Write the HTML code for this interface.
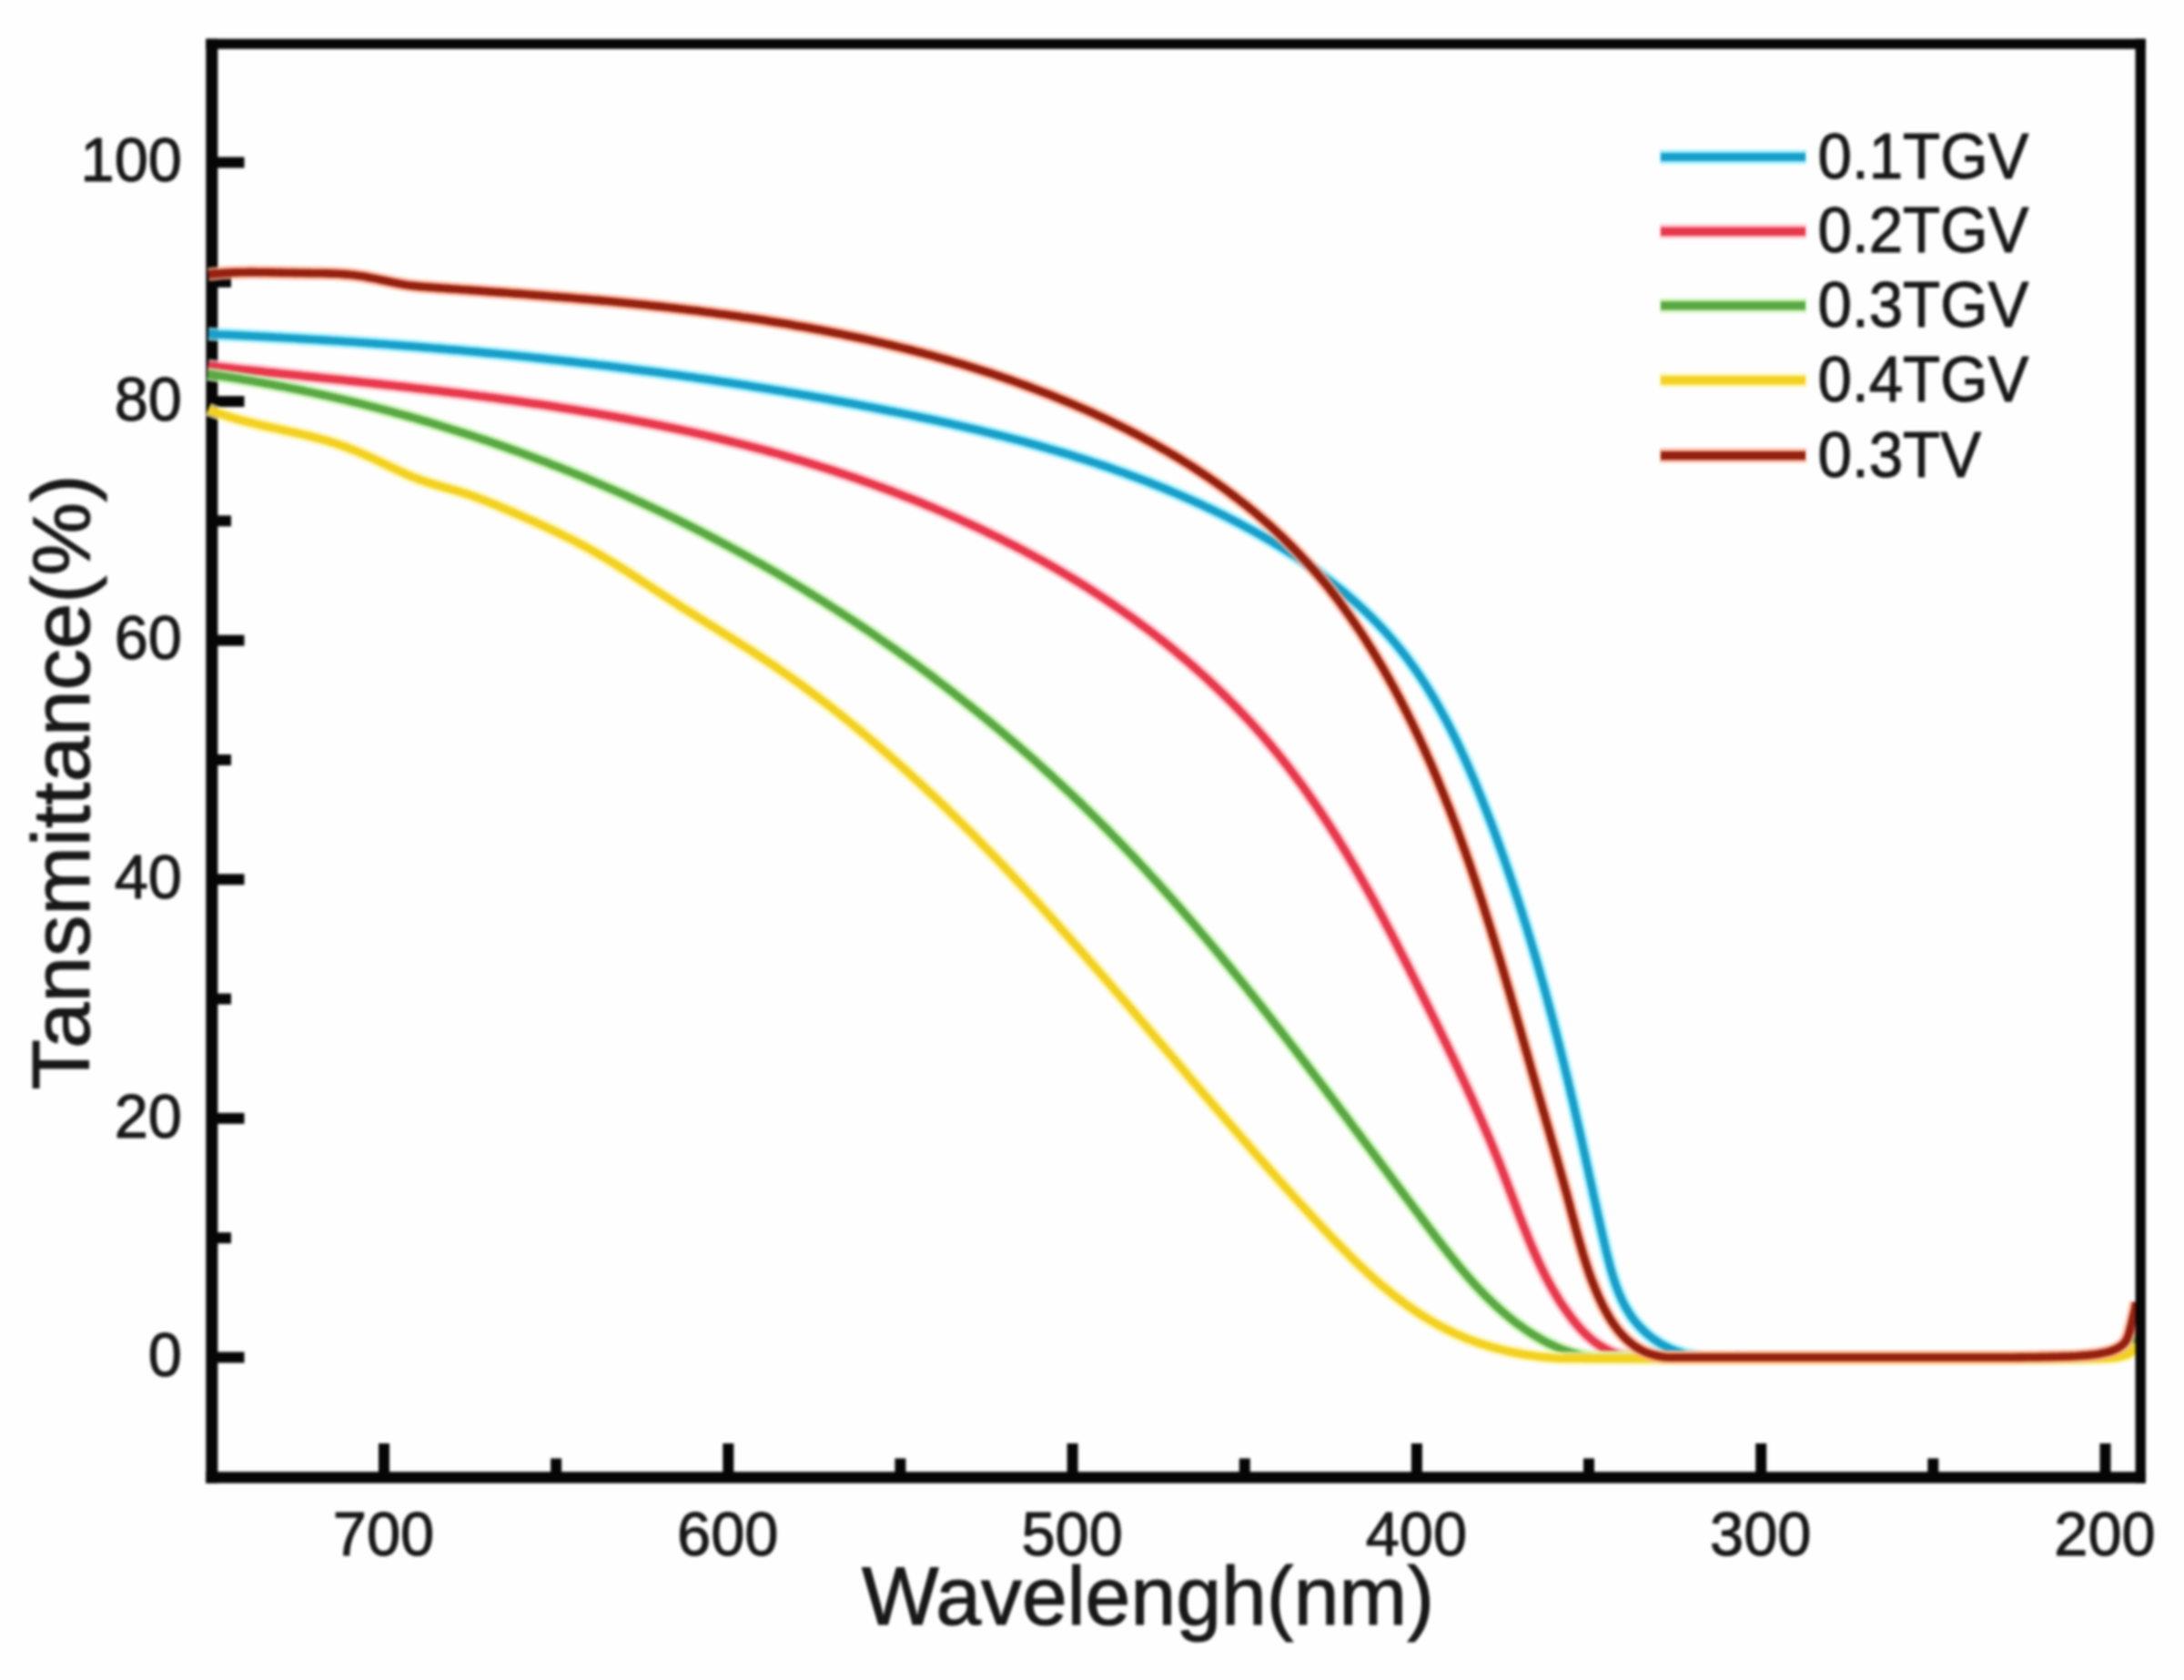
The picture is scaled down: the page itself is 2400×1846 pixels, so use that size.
<!DOCTYPE html>
<html lang="en"><head><meta charset="utf-8"><title>Transmittance spectra</title>
<style>html,body{margin:0;padding:0;background:#fff}body{width:2400px;height:1846px;overflow:hidden}svg{display:block;filter:blur(1.5px)}text{font-family:"Liberation Sans",Arial,sans-serif;fill:#181818;stroke:#181818;stroke-width:1.1px;stroke-linejoin:round}</style></head><body>
<svg width="2400" height="1846" viewBox="0 0 2400 1846">
<rect width="2400" height="1846" fill="#fefefe"/>
<rect x="226.3" y="42.7" width="13.0" height="1587.0" fill="#060606"/><rect x="226.3" y="42.7" width="2131.6" height="11.1" fill="#060606"/><rect x="226.3" y="1617.2" width="2131.6" height="12.5" fill="#060606"/>
<g fill="#060606">
<rect x="233.0" y="1485.5" width="35.5" height="12.0"/>
<rect x="233.0" y="1354.2" width="21.0" height="12.0"/>
<rect x="233.0" y="1222.9" width="35.5" height="12.0"/>
<rect x="233.0" y="1091.6" width="21.0" height="12.0"/>
<rect x="233.0" y="960.3" width="35.5" height="12.0"/>
<rect x="233.0" y="829.0" width="21.0" height="12.0"/>
<rect x="233.0" y="697.7" width="35.5" height="12.0"/>
<rect x="233.0" y="566.4" width="21.0" height="12.0"/>
<rect x="233.0" y="435.1" width="35.5" height="12.0"/>
<rect x="233.0" y="303.8" width="21.0" height="12.0"/>
<rect x="233.0" y="172.5" width="35.5" height="12.0"/>
<rect x="416.0" y="1586.0" width="12.0" height="36.5"/>
<rect x="605.1" y="1602.5" width="12.0" height="20.0"/>
<rect x="794.3" y="1586.0" width="12.0" height="36.5"/>
<rect x="983.4" y="1602.5" width="12.0" height="20.0"/>
<rect x="1172.6" y="1586.0" width="12.0" height="36.5"/>
<rect x="1361.8" y="1602.5" width="12.0" height="20.0"/>
<rect x="1550.9" y="1586.0" width="12.0" height="36.5"/>
<rect x="1740.0" y="1602.5" width="12.0" height="20.0"/>
<rect x="1929.2" y="1586.0" width="12.0" height="36.5"/>
<rect x="2118.3" y="1602.5" width="12.0" height="20.0"/>
<rect x="2307.5" y="1586.0" width="12.0" height="36.5"/>
</g>
<g fill="none" stroke-linejoin="round" stroke-linecap="butt">
<path stroke="#8cecff" stroke-width="15.0" stroke-opacity="0.75" d="M229.0 367.0 L234.0 367.2 L239.0 367.5 L244.0 367.7 L249.0 367.9 L254.0 368.1 L259.0 368.4 L264.0 368.6 L269.0 368.9 L274.0 369.1 L279.0 369.4 L284.0 369.6 L289.0 369.9 L293.9 370.1 L298.9 370.4 L303.9 370.7 L308.9 370.9 L313.9 371.2 L318.9 371.5 L323.9 371.8 L328.9 372.1 L333.9 372.4 L338.9 372.7 L343.9 373.0 L348.8 373.3 L353.8 373.6 L358.8 373.9 L363.8 374.2 L368.8 374.5 L373.8 374.8 L378.8 375.2 L383.8 375.5 L388.8 375.8 L393.7 376.2 L398.7 376.5 L403.7 376.9 L408.7 377.2 L413.7 377.6 L418.7 378.0 L423.7 378.3 L428.6 378.7 L433.6 379.1 L438.6 379.5 L443.6 379.9 L448.6 380.2 L453.6 380.6 L458.5 381.0 L463.5 381.4 L468.5 381.9 L473.5 382.3 L478.5 382.7 L483.5 383.1 L488.4 383.5 L493.4 384.0 L498.4 384.4 L503.4 384.8 L508.4 385.3 L513.3 385.7 L518.3 386.2 L523.3 386.6 L528.3 387.1 L533.2 387.6 L538.2 388.1 L543.2 388.5 L548.2 389.0 L553.1 389.5 L558.1 390.0 L563.1 390.5 L568.1 391.0 L573.0 391.5 L578.0 392.0 L583.0 392.5 L587.9 393.1 L592.9 393.6 L597.9 394.1 L602.9 394.7 L607.8 395.2 L612.8 395.8 L617.8 396.3 L622.7 396.9 L627.7 397.4 L632.7 398.0 L637.6 398.6 L642.6 399.1 L647.6 399.7 L652.5 400.3 L657.5 400.9 L662.4 401.5 L667.4 402.1 L672.4 402.7 L677.3 403.3 L682.3 404.0 L687.2 404.6 L692.2 405.2 L697.2 405.9 L702.1 406.5 L707.1 407.2 L712.0 407.8 L717.0 408.5 L721.9 409.1 L726.9 409.8 L731.8 410.5 L736.8 411.2 L741.7 411.8 L746.7 412.5 L751.6 413.2 L756.6 413.9 L761.5 414.6 L766.5 415.4 L771.4 416.1 L776.4 416.8 L781.3 417.5 L786.3 418.3 L791.2 419.0 L796.2 419.8 L801.1 420.5 L806.0 421.3 L811.0 422.0 L815.9 422.8 L820.9 423.6 L825.8 424.4 L830.7 425.2 L835.7 426.0 L840.6 426.8 L845.5 427.6 L850.5 428.4 L855.4 429.2 L860.3 430.0 L865.3 430.9 L870.2 431.7 L875.1 432.5 L880.1 433.4 L885.0 434.2 L889.9 435.1 L894.8 436.0 L899.8 436.8 L904.7 437.7 L909.6 438.6 L914.5 439.5 L919.5 440.4 L924.4 441.3 L929.3 442.2 L934.2 443.1 L939.1 444.0 L944.1 445.0 L949.0 445.9 L953.9 446.9 L958.8 447.8 L963.7 448.8 L968.6 449.7 L973.5 450.7 L978.4 451.7 L983.4 452.6 L988.3 453.6 L993.2 454.6 L998.1 455.6 L1003.0 456.6 L1007.9 457.7 L1012.8 458.7 L1017.7 459.7 L1022.6 460.8 L1027.5 461.8 L1032.3 462.9 L1037.2 464.0 L1042.1 465.0 L1047.0 466.1 L1051.9 467.2 L1056.8 468.4 L1061.6 469.5 L1066.5 470.6 L1071.4 471.8 L1076.2 472.9 L1081.1 474.1 L1085.9 475.3 L1090.8 476.5 L1095.7 477.7 L1100.5 478.9 L1105.3 480.1 L1110.2 481.4 L1115.0 482.7 L1119.8 483.9 L1124.7 485.2 L1129.5 486.5 L1134.3 487.8 L1139.1 489.2 L1143.9 490.5 L1148.7 491.9 L1153.5 493.3 L1158.3 494.7 L1163.1 496.1 L1167.9 497.5 L1172.7 498.9 L1177.4 500.4 L1182.2 501.9 L1186.9 503.4 L1191.7 504.9 L1196.4 506.4 L1201.2 508.0 L1205.9 509.5 L1210.6 511.1 L1215.4 512.7 L1220.1 514.3 L1224.8 516.0 L1229.5 517.7 L1234.2 519.3 L1238.9 521.0 L1243.5 522.8 L1248.2 524.5 L1252.9 526.3 L1257.5 528.0 L1262.2 529.8 L1266.8 531.7 L1271.5 533.5 L1276.1 535.4 L1280.7 537.3 L1285.3 539.2 L1289.9 541.1 L1294.5 543.1 L1299.1 545.1 L1303.7 547.1 L1308.3 549.1 L1312.8 551.2 L1317.4 553.2 L1321.9 555.3 L1326.4 557.5 L1331.0 559.6 L1335.5 561.8 L1340.0 564.0 L1344.5 566.2 L1349.0 568.5 L1353.4 570.8 L1357.9 573.1 L1362.4 575.4 L1366.8 577.8 L1371.2 580.2 L1375.6 582.6 L1380.0 585.0 L1384.4 587.5 L1388.8 590.0 L1393.1 592.5 L1397.5 595.1 L1401.8 597.7 L1406.1 600.3 L1410.3 602.9 L1414.6 605.6 L1418.8 608.3 L1423.0 611.0 L1427.2 613.8 L1431.4 616.6 L1435.5 619.4 L1439.6 622.3 L1443.7 625.2 L1447.7 628.1 L1451.8 631.1 L1455.8 634.1 L1459.7 637.1 L1463.7 640.2 L1467.6 643.3 L1471.5 646.4 L1475.3 649.6 L1479.1 652.7 L1482.9 656.0 L1486.6 659.2 L1490.3 662.5 L1494.0 665.9 L1497.7 669.3 L1501.2 672.7 L1504.8 676.1 L1508.3 679.6 L1511.8 683.1 L1515.2 686.7 L1518.6 690.3 L1522.0 693.9 L1525.3 697.6 L1528.5 701.3 L1531.8 705.1 L1534.9 708.9 L1538.1 712.7 L1541.1 716.6 L1544.2 720.5 L1547.2 724.4 L1550.1 728.4 L1553.0 732.4 L1555.9 736.5 L1558.7 740.6 L1561.4 744.7 L1564.2 748.8 L1566.9 753.0 L1569.5 757.2 L1572.1 761.5 L1574.7 765.8 L1577.2 770.1 L1579.7 774.4 L1582.2 778.8 L1584.6 783.2 L1587.0 787.6 L1589.4 792.0 L1591.7 796.4 L1594.0 800.9 L1596.2 805.4 L1598.5 809.9 L1600.7 814.5 L1602.9 819.0 L1605.0 823.6 L1607.1 828.2 L1609.2 832.8 L1611.3 837.4 L1613.3 842.0 L1615.3 846.6 L1617.3 851.3 L1619.3 855.9 L1621.3 860.6 L1623.2 865.3 L1625.1 870.0 L1627.0 874.7 L1628.9 879.4 L1630.7 884.1 L1632.6 888.8 L1634.4 893.5 L1636.2 898.2 L1638.0 902.9 L1639.8 907.6 L1641.5 912.3 L1643.3 917.0 L1645.0 921.8 L1646.7 926.5 L1648.4 931.2 L1650.1 935.9 L1651.8 940.6 L1653.4 945.4 L1655.1 950.1 L1656.7 954.8 L1658.3 959.6 L1659.9 964.3 L1661.5 969.0 L1663.1 973.8 L1664.7 978.5 L1666.2 983.2 L1667.8 988.0 L1669.3 992.7 L1670.8 997.5 L1672.4 1002.2 L1673.8 1006.9 L1675.3 1011.7 L1676.8 1016.4 L1678.3 1021.2 L1679.7 1026.0 L1681.2 1030.7 L1682.6 1035.5 L1684.0 1040.2 L1685.4 1045.0 L1686.8 1049.8 L1688.2 1054.5 L1689.6 1059.3 L1690.9 1064.1 L1692.3 1068.8 L1693.6 1073.6 L1695.0 1078.4 L1696.3 1083.2 L1697.6 1087.9 L1698.9 1092.7 L1700.2 1097.5 L1701.5 1102.3 L1702.8 1107.1 L1704.0 1111.9 L1705.3 1116.7 L1706.6 1121.5 L1707.8 1126.3 L1709.0 1131.1 L1710.3 1135.9 L1711.5 1140.7 L1712.7 1145.5 L1713.9 1150.3 L1715.1 1155.1 L1716.3 1159.9 L1717.5 1164.7 L1718.7 1169.6 L1719.8 1174.4 L1721.0 1179.2 L1722.2 1184.0 L1723.3 1188.9 L1724.5 1193.7 L1725.6 1198.5 L1726.7 1203.4 L1727.9 1208.2 L1729.0 1213.0 L1730.1 1217.9 L1731.2 1222.7 L1732.3 1227.6 L1733.4 1232.4 L1734.5 1237.3 L1735.6 1242.2 L1736.7 1247.0 L1737.8 1251.9 L1738.8 1256.8 L1739.9 1261.6 L1741.0 1266.5 L1742.1 1271.4 L1743.1 1276.3 L1744.2 1281.2 L1745.3 1286.1 L1746.3 1291.0 L1747.4 1295.9 L1748.5 1300.8 L1749.6 1305.7 L1750.6 1310.7 L1751.7 1315.6 L1752.8 1320.6 L1753.9 1325.5 L1755.0 1330.5 L1756.1 1335.5 L1757.2 1340.5 L1758.4 1345.5 L1759.5 1350.5 L1760.6 1355.5 L1761.8 1360.6 L1763.0 1365.7 L1764.1 1370.7 L1765.3 1375.8 L1766.6 1380.9 L1767.9 1385.9 L1769.2 1391.0 L1770.6 1396.0 L1772.0 1400.9 L1773.6 1405.8 L1775.2 1410.7 L1776.9 1415.4 L1778.7 1420.1 L1780.7 1424.7 L1782.7 1429.2 L1784.9 1433.6 L1787.3 1437.9 L1789.8 1442.0 L1792.4 1446.1 L1795.2 1449.9 L1798.2 1453.6 L1801.3 1457.2 L1804.6 1460.6 L1808.0 1463.9 L1811.6 1467.0 L1815.3 1470.0 L1819.1 1472.7 L1823.1 1475.3 L1827.2 1477.8 L1831.4 1480.0 L1835.8 1482.1 L1840.2 1484.0 L1844.8 1485.7 L1849.4 1487.2 L1854.2 1488.5 L1859.1 1489.6 L1864.0 1490.6 L1869.0 1491.3 L1874.1 1491.5 L1879.2 1491.5 L1884.4 1491.5 L1889.6 1491.5 L1894.8 1491.5 L1900.0 1491.5 L1905.2 1491.5 L1910.4 1490.9 L1910.0 1491.5 L1970.0 1491.5 L1974.0 1491.5 L1978.0 1491.5 L1982.0 1491.5 L1986.0 1491.5 L1990.0 1491.5 L1994.0 1491.5 L1998.0 1491.5 L2002.0 1491.5 L2006.0 1491.5 L2010.0 1491.5 L2014.0 1491.5 L2018.0 1491.5 L2022.0 1491.5 L2026.0 1491.5 L2030.0 1491.5 L2034.0 1491.5 L2038.0 1491.5 L2042.0 1491.5 L2046.0 1491.5 L2050.0 1491.5 L2054.0 1491.5 L2058.0 1491.5 L2062.0 1491.5 L2066.0 1491.5 L2070.0 1491.5 L2074.0 1491.5 L2078.0 1491.5 L2082.0 1491.5 L2086.0 1491.5 L2090.0 1491.5 L2094.0 1491.5 L2098.0 1491.5 L2102.0 1491.5 L2106.0 1491.5 L2110.0 1491.5 L2114.0 1491.5 L2118.0 1491.5 L2122.0 1491.5 L2126.0 1491.5 L2130.0 1491.5 L2134.0 1491.5 L2138.0 1491.5 L2142.0 1491.5 L2146.0 1491.5 L2150.0 1491.5 L2154.0 1491.5 L2158.0 1491.5 L2162.0 1491.5 L2166.0 1491.5 L2170.0 1491.5 L2174.0 1491.5 L2178.0 1491.5 L2182.0 1491.5 L2186.0 1491.5 L2190.0 1491.5 L2194.0 1491.5 L2198.0 1491.5 L2202.0 1491.5 L2206.0 1491.5 L2210.0 1491.5 L2214.0 1491.5 L2218.0 1491.5 L2222.0 1491.5 L2226.0 1491.5 L2230.0 1491.4 L2234.0 1491.4 L2238.0 1491.4 L2242.0 1491.4 L2246.0 1491.3 L2250.0 1491.3 L2254.0 1491.3 L2258.0 1491.2 L2262.0 1491.2 L2266.0 1491.2 L2270.0 1491.1 L2274.0 1491.1 L2278.0 1491.0 L2282.0 1491.0 L2286.0 1490.8 L2290.0 1490.7 L2294.0 1490.4 L2298.0 1490.1 L2302.0 1489.8 L2306.0 1489.4 L2309.9 1489.0 L2313.9 1488.5 L2317.9 1487.8 L2321.9 1486.9 L2325.6 1485.8 L2329.3 1484.1 L2332.8 1481.9 L2335.7 1479.3 L2338.1 1476.3 L2340.1 1472.8 L2341.9 1469.0 L2343.3 1465.2 L2344.5 1461.5 L2345.7 1457.7 L2346.7 1453.8 L2347.5 1449.8 L2348.0 1446.0"/>
<path stroke="#189fc9" stroke-width="8.6" d="M229.0 367.0 L234.0 367.2 L239.0 367.5 L244.0 367.7 L249.0 367.9 L254.0 368.1 L259.0 368.4 L264.0 368.6 L269.0 368.9 L274.0 369.1 L279.0 369.4 L284.0 369.6 L289.0 369.9 L293.9 370.1 L298.9 370.4 L303.9 370.7 L308.9 370.9 L313.9 371.2 L318.9 371.5 L323.9 371.8 L328.9 372.1 L333.9 372.4 L338.9 372.7 L343.9 373.0 L348.8 373.3 L353.8 373.6 L358.8 373.9 L363.8 374.2 L368.8 374.5 L373.8 374.8 L378.8 375.2 L383.8 375.5 L388.8 375.8 L393.7 376.2 L398.7 376.5 L403.7 376.9 L408.7 377.2 L413.7 377.6 L418.7 378.0 L423.7 378.3 L428.6 378.7 L433.6 379.1 L438.6 379.5 L443.6 379.9 L448.6 380.2 L453.6 380.6 L458.5 381.0 L463.5 381.4 L468.5 381.9 L473.5 382.3 L478.5 382.7 L483.5 383.1 L488.4 383.5 L493.4 384.0 L498.4 384.4 L503.4 384.8 L508.4 385.3 L513.3 385.7 L518.3 386.2 L523.3 386.6 L528.3 387.1 L533.2 387.6 L538.2 388.1 L543.2 388.5 L548.2 389.0 L553.1 389.5 L558.1 390.0 L563.1 390.5 L568.1 391.0 L573.0 391.5 L578.0 392.0 L583.0 392.5 L587.9 393.1 L592.9 393.6 L597.9 394.1 L602.9 394.7 L607.8 395.2 L612.8 395.8 L617.8 396.3 L622.7 396.9 L627.7 397.4 L632.7 398.0 L637.6 398.6 L642.6 399.1 L647.6 399.7 L652.5 400.3 L657.5 400.9 L662.4 401.5 L667.4 402.1 L672.4 402.7 L677.3 403.3 L682.3 404.0 L687.2 404.6 L692.2 405.2 L697.2 405.9 L702.1 406.5 L707.1 407.2 L712.0 407.8 L717.0 408.5 L721.9 409.1 L726.9 409.8 L731.8 410.5 L736.8 411.2 L741.7 411.8 L746.7 412.5 L751.6 413.2 L756.6 413.9 L761.5 414.6 L766.5 415.4 L771.4 416.1 L776.4 416.8 L781.3 417.5 L786.3 418.3 L791.2 419.0 L796.2 419.8 L801.1 420.5 L806.0 421.3 L811.0 422.0 L815.9 422.8 L820.9 423.6 L825.8 424.4 L830.7 425.2 L835.7 426.0 L840.6 426.8 L845.5 427.6 L850.5 428.4 L855.4 429.2 L860.3 430.0 L865.3 430.9 L870.2 431.7 L875.1 432.5 L880.1 433.4 L885.0 434.2 L889.9 435.1 L894.8 436.0 L899.8 436.8 L904.7 437.7 L909.6 438.6 L914.5 439.5 L919.5 440.4 L924.4 441.3 L929.3 442.2 L934.2 443.1 L939.1 444.0 L944.1 445.0 L949.0 445.9 L953.9 446.9 L958.8 447.8 L963.7 448.8 L968.6 449.7 L973.5 450.7 L978.4 451.7 L983.4 452.6 L988.3 453.6 L993.2 454.6 L998.1 455.6 L1003.0 456.6 L1007.9 457.7 L1012.8 458.7 L1017.7 459.7 L1022.6 460.8 L1027.5 461.8 L1032.3 462.9 L1037.2 464.0 L1042.1 465.0 L1047.0 466.1 L1051.9 467.2 L1056.8 468.4 L1061.6 469.5 L1066.5 470.6 L1071.4 471.8 L1076.2 472.9 L1081.1 474.1 L1085.9 475.3 L1090.8 476.5 L1095.7 477.7 L1100.5 478.9 L1105.3 480.1 L1110.2 481.4 L1115.0 482.7 L1119.8 483.9 L1124.7 485.2 L1129.5 486.5 L1134.3 487.8 L1139.1 489.2 L1143.9 490.5 L1148.7 491.9 L1153.5 493.3 L1158.3 494.7 L1163.1 496.1 L1167.9 497.5 L1172.7 498.9 L1177.4 500.4 L1182.2 501.9 L1186.9 503.4 L1191.7 504.9 L1196.4 506.4 L1201.2 508.0 L1205.9 509.5 L1210.6 511.1 L1215.4 512.7 L1220.1 514.3 L1224.8 516.0 L1229.5 517.7 L1234.2 519.3 L1238.9 521.0 L1243.5 522.8 L1248.2 524.5 L1252.9 526.3 L1257.5 528.0 L1262.2 529.8 L1266.8 531.7 L1271.5 533.5 L1276.1 535.4 L1280.7 537.3 L1285.3 539.2 L1289.9 541.1 L1294.5 543.1 L1299.1 545.1 L1303.7 547.1 L1308.3 549.1 L1312.8 551.2 L1317.4 553.2 L1321.9 555.3 L1326.4 557.5 L1331.0 559.6 L1335.5 561.8 L1340.0 564.0 L1344.5 566.2 L1349.0 568.5 L1353.4 570.8 L1357.9 573.1 L1362.4 575.4 L1366.8 577.8 L1371.2 580.2 L1375.6 582.6 L1380.0 585.0 L1384.4 587.5 L1388.8 590.0 L1393.1 592.5 L1397.5 595.1 L1401.8 597.7 L1406.1 600.3 L1410.3 602.9 L1414.6 605.6 L1418.8 608.3 L1423.0 611.0 L1427.2 613.8 L1431.4 616.6 L1435.5 619.4 L1439.6 622.3 L1443.7 625.2 L1447.7 628.1 L1451.8 631.1 L1455.8 634.1 L1459.7 637.1 L1463.7 640.2 L1467.6 643.3 L1471.5 646.4 L1475.3 649.6 L1479.1 652.7 L1482.9 656.0 L1486.6 659.2 L1490.3 662.5 L1494.0 665.9 L1497.7 669.3 L1501.2 672.7 L1504.8 676.1 L1508.3 679.6 L1511.8 683.1 L1515.2 686.7 L1518.6 690.3 L1522.0 693.9 L1525.3 697.6 L1528.5 701.3 L1531.8 705.1 L1534.9 708.9 L1538.1 712.7 L1541.1 716.6 L1544.2 720.5 L1547.2 724.4 L1550.1 728.4 L1553.0 732.4 L1555.9 736.5 L1558.7 740.6 L1561.4 744.7 L1564.2 748.8 L1566.9 753.0 L1569.5 757.2 L1572.1 761.5 L1574.7 765.8 L1577.2 770.1 L1579.7 774.4 L1582.2 778.8 L1584.6 783.2 L1587.0 787.6 L1589.4 792.0 L1591.7 796.4 L1594.0 800.9 L1596.2 805.4 L1598.5 809.9 L1600.7 814.5 L1602.9 819.0 L1605.0 823.6 L1607.1 828.2 L1609.2 832.8 L1611.3 837.4 L1613.3 842.0 L1615.3 846.6 L1617.3 851.3 L1619.3 855.9 L1621.3 860.6 L1623.2 865.3 L1625.1 870.0 L1627.0 874.7 L1628.9 879.4 L1630.7 884.1 L1632.6 888.8 L1634.4 893.5 L1636.2 898.2 L1638.0 902.9 L1639.8 907.6 L1641.5 912.3 L1643.3 917.0 L1645.0 921.8 L1646.7 926.5 L1648.4 931.2 L1650.1 935.9 L1651.8 940.6 L1653.4 945.4 L1655.1 950.1 L1656.7 954.8 L1658.3 959.6 L1659.9 964.3 L1661.5 969.0 L1663.1 973.8 L1664.7 978.5 L1666.2 983.2 L1667.8 988.0 L1669.3 992.7 L1670.8 997.5 L1672.4 1002.2 L1673.8 1006.9 L1675.3 1011.7 L1676.8 1016.4 L1678.3 1021.2 L1679.7 1026.0 L1681.2 1030.7 L1682.6 1035.5 L1684.0 1040.2 L1685.4 1045.0 L1686.8 1049.8 L1688.2 1054.5 L1689.6 1059.3 L1690.9 1064.1 L1692.3 1068.8 L1693.6 1073.6 L1695.0 1078.4 L1696.3 1083.2 L1697.6 1087.9 L1698.9 1092.7 L1700.2 1097.5 L1701.5 1102.3 L1702.8 1107.1 L1704.0 1111.9 L1705.3 1116.7 L1706.6 1121.5 L1707.8 1126.3 L1709.0 1131.1 L1710.3 1135.9 L1711.5 1140.7 L1712.7 1145.5 L1713.9 1150.3 L1715.1 1155.1 L1716.3 1159.9 L1717.5 1164.7 L1718.7 1169.6 L1719.8 1174.4 L1721.0 1179.2 L1722.2 1184.0 L1723.3 1188.9 L1724.5 1193.7 L1725.6 1198.5 L1726.7 1203.4 L1727.9 1208.2 L1729.0 1213.0 L1730.1 1217.9 L1731.2 1222.7 L1732.3 1227.6 L1733.4 1232.4 L1734.5 1237.3 L1735.6 1242.2 L1736.7 1247.0 L1737.8 1251.9 L1738.8 1256.8 L1739.9 1261.6 L1741.0 1266.5 L1742.1 1271.4 L1743.1 1276.3 L1744.2 1281.2 L1745.3 1286.1 L1746.3 1291.0 L1747.4 1295.9 L1748.5 1300.8 L1749.6 1305.7 L1750.6 1310.7 L1751.7 1315.6 L1752.8 1320.6 L1753.9 1325.5 L1755.0 1330.5 L1756.1 1335.5 L1757.2 1340.5 L1758.4 1345.5 L1759.5 1350.5 L1760.6 1355.5 L1761.8 1360.6 L1763.0 1365.7 L1764.1 1370.7 L1765.3 1375.8 L1766.6 1380.9 L1767.9 1385.9 L1769.2 1391.0 L1770.6 1396.0 L1772.0 1400.9 L1773.6 1405.8 L1775.2 1410.7 L1776.9 1415.4 L1778.7 1420.1 L1780.7 1424.7 L1782.7 1429.2 L1784.9 1433.6 L1787.3 1437.9 L1789.8 1442.0 L1792.4 1446.1 L1795.2 1449.9 L1798.2 1453.6 L1801.3 1457.2 L1804.6 1460.6 L1808.0 1463.9 L1811.6 1467.0 L1815.3 1470.0 L1819.1 1472.7 L1823.1 1475.3 L1827.2 1477.8 L1831.4 1480.0 L1835.8 1482.1 L1840.2 1484.0 L1844.8 1485.7 L1849.4 1487.2 L1854.2 1488.5 L1859.1 1489.6 L1864.0 1490.6 L1869.0 1491.3 L1874.1 1491.5 L1879.2 1491.5 L1884.4 1491.5 L1889.6 1491.5 L1894.8 1491.5 L1900.0 1491.5 L1905.2 1491.5 L1910.4 1490.9 L1910.0 1491.5 L1970.0 1491.5 L1974.0 1491.5 L1978.0 1491.5 L1982.0 1491.5 L1986.0 1491.5 L1990.0 1491.5 L1994.0 1491.5 L1998.0 1491.5 L2002.0 1491.5 L2006.0 1491.5 L2010.0 1491.5 L2014.0 1491.5 L2018.0 1491.5 L2022.0 1491.5 L2026.0 1491.5 L2030.0 1491.5 L2034.0 1491.5 L2038.0 1491.5 L2042.0 1491.5 L2046.0 1491.5 L2050.0 1491.5 L2054.0 1491.5 L2058.0 1491.5 L2062.0 1491.5 L2066.0 1491.5 L2070.0 1491.5 L2074.0 1491.5 L2078.0 1491.5 L2082.0 1491.5 L2086.0 1491.5 L2090.0 1491.5 L2094.0 1491.5 L2098.0 1491.5 L2102.0 1491.5 L2106.0 1491.5 L2110.0 1491.5 L2114.0 1491.5 L2118.0 1491.5 L2122.0 1491.5 L2126.0 1491.5 L2130.0 1491.5 L2134.0 1491.5 L2138.0 1491.5 L2142.0 1491.5 L2146.0 1491.5 L2150.0 1491.5 L2154.0 1491.5 L2158.0 1491.5 L2162.0 1491.5 L2166.0 1491.5 L2170.0 1491.5 L2174.0 1491.5 L2178.0 1491.5 L2182.0 1491.5 L2186.0 1491.5 L2190.0 1491.5 L2194.0 1491.5 L2198.0 1491.5 L2202.0 1491.5 L2206.0 1491.5 L2210.0 1491.5 L2214.0 1491.5 L2218.0 1491.5 L2222.0 1491.5 L2226.0 1491.5 L2230.0 1491.4 L2234.0 1491.4 L2238.0 1491.4 L2242.0 1491.4 L2246.0 1491.3 L2250.0 1491.3 L2254.0 1491.3 L2258.0 1491.2 L2262.0 1491.2 L2266.0 1491.2 L2270.0 1491.1 L2274.0 1491.1 L2278.0 1491.0 L2282.0 1491.0 L2286.0 1490.8 L2290.0 1490.7 L2294.0 1490.4 L2298.0 1490.1 L2302.0 1489.8 L2306.0 1489.4 L2309.9 1489.0 L2313.9 1488.5 L2317.9 1487.8 L2321.9 1486.9 L2325.6 1485.8 L2329.3 1484.1 L2332.8 1481.9 L2335.7 1479.3 L2338.1 1476.3 L2340.1 1472.8 L2341.9 1469.0 L2343.3 1465.2 L2344.5 1461.5 L2345.7 1457.7 L2346.7 1453.8 L2347.5 1449.8 L2348.0 1446.0"/>
<path stroke="#ffb4bd" stroke-width="15.0" stroke-opacity="0.75" d="M228.7 401.9 L233.7 402.5 L238.7 403.0 L243.6 403.5 L248.6 404.1 L253.6 404.6 L258.6 405.2 L263.6 405.7 L268.6 406.2 L273.6 406.8 L278.6 407.3 L283.6 407.8 L288.6 408.3 L293.6 408.9 L298.5 409.4 L303.5 409.9 L308.5 410.5 L313.5 411.0 L318.5 411.5 L323.5 412.0 L328.5 412.5 L333.4 413.1 L338.4 413.6 L343.4 414.1 L348.4 414.6 L353.4 415.2 L358.3 415.7 L363.3 416.2 L368.3 416.8 L373.3 417.3 L378.3 417.8 L383.2 418.4 L388.2 418.9 L393.2 419.4 L398.2 420.0 L403.1 420.5 L408.1 421.1 L413.1 421.6 L418.0 422.1 L423.0 422.7 L428.0 423.3 L433.0 423.8 L437.9 424.4 L442.9 424.9 L447.9 425.5 L452.8 426.1 L457.8 426.7 L462.7 427.2 L467.7 427.8 L472.7 428.4 L477.6 429.0 L482.6 429.6 L487.5 430.2 L492.5 430.8 L497.4 431.4 L502.4 432.0 L507.3 432.6 L512.3 433.3 L517.2 433.9 L522.2 434.5 L527.1 435.2 L532.1 435.8 L537.0 436.5 L542.0 437.1 L546.9 437.8 L551.8 438.5 L556.8 439.2 L561.7 439.8 L566.7 440.5 L571.6 441.2 L576.5 441.9 L581.5 442.7 L586.4 443.4 L591.3 444.1 L596.2 444.8 L601.2 445.6 L606.1 446.3 L611.0 447.1 L615.9 447.9 L620.9 448.7 L625.8 449.4 L630.7 450.2 L635.6 451.0 L640.5 451.9 L645.4 452.7 L650.3 453.5 L655.2 454.3 L660.1 455.2 L665.0 456.1 L669.9 456.9 L674.9 457.8 L679.7 458.7 L684.6 459.6 L689.5 460.5 L694.4 461.4 L699.3 462.4 L704.2 463.3 L709.1 464.3 L714.0 465.2 L718.9 466.2 L723.8 467.2 L728.6 468.2 L733.5 469.2 L738.4 470.2 L743.3 471.3 L748.1 472.3 L753.0 473.4 L757.9 474.4 L762.7 475.5 L767.6 476.6 L772.5 477.7 L777.3 478.9 L782.2 480.0 L787.0 481.1 L791.9 482.3 L796.7 483.5 L801.6 484.7 L806.4 485.9 L811.3 487.1 L816.1 488.3 L821.0 489.6 L825.8 490.8 L830.6 492.1 L835.5 493.4 L840.3 494.7 L845.1 496.0 L850.0 497.4 L854.8 498.7 L859.6 500.1 L864.4 501.5 L869.2 502.8 L874.0 504.3 L878.9 505.7 L883.7 507.1 L888.5 508.6 L893.3 510.1 L898.1 511.6 L902.9 513.1 L907.7 514.6 L912.4 516.1 L917.2 517.7 L922.0 519.3 L926.8 520.9 L931.6 522.5 L936.3 524.1 L941.1 525.7 L945.8 527.4 L950.6 529.1 L955.3 530.7 L960.1 532.5 L964.8 534.2 L969.5 535.9 L974.3 537.7 L979.0 539.4 L983.7 541.2 L988.4 543.0 L993.1 544.9 L997.8 546.7 L1002.5 548.6 L1007.2 550.5 L1011.8 552.3 L1016.5 554.3 L1021.1 556.2 L1025.8 558.1 L1030.4 560.1 L1035.1 562.1 L1039.7 564.1 L1044.3 566.1 L1048.9 568.1 L1053.5 570.2 L1058.1 572.3 L1062.6 574.4 L1067.2 576.5 L1071.8 578.6 L1076.3 580.7 L1080.9 582.9 L1085.4 585.1 L1089.9 587.3 L1094.4 589.5 L1098.9 591.7 L1103.4 594.0 L1107.9 596.3 L1112.3 598.5 L1116.8 600.9 L1121.2 603.2 L1125.7 605.5 L1130.1 607.9 L1134.5 610.3 L1138.9 612.7 L1143.3 615.1 L1147.7 617.6 L1152.0 620.0 L1156.4 622.5 L1160.7 625.0 L1165.0 627.5 L1169.3 630.1 L1173.6 632.6 L1177.9 635.2 L1182.2 637.8 L1186.4 640.4 L1190.6 643.0 L1194.9 645.7 L1199.1 648.4 L1203.3 651.1 L1207.5 653.8 L1211.6 656.5 L1215.8 659.3 L1219.9 662.1 L1224.0 664.9 L1228.1 667.7 L1232.2 670.5 L1236.3 673.4 L1240.3 676.2 L1244.4 679.1 L1248.4 682.0 L1252.4 685.0 L1256.4 687.9 L1260.4 690.9 L1264.3 693.9 L1268.3 696.9 L1272.2 700.0 L1276.1 703.0 L1280.0 706.1 L1283.8 709.2 L1287.7 712.3 L1291.5 715.5 L1295.3 718.7 L1299.1 721.8 L1302.9 725.1 L1306.7 728.3 L1310.4 731.5 L1314.1 734.8 L1317.8 738.1 L1321.5 741.4 L1325.2 744.7 L1328.8 748.1 L1332.4 751.5 L1336.0 754.9 L1339.6 758.3 L1343.2 761.8 L1346.7 765.2 L1350.2 768.7 L1353.7 772.2 L1357.2 775.7 L1360.6 779.3 L1364.1 782.9 L1367.5 786.5 L1370.9 790.1 L1374.2 793.7 L1377.6 797.4 L1380.9 801.1 L1384.2 804.8 L1387.5 808.5 L1390.7 812.3 L1393.9 816.1 L1397.2 819.9 L1400.3 823.7 L1403.5 827.5 L1406.6 831.4 L1409.7 835.3 L1412.8 839.2 L1415.9 843.1 L1418.9 847.1 L1421.9 851.1 L1424.9 855.1 L1427.9 859.1 L1430.9 863.1 L1433.8 867.2 L1436.7 871.3 L1439.6 875.4 L1442.4 879.5 L1445.3 883.6 L1448.1 887.8 L1450.9 892.0 L1453.7 896.2 L1456.4 900.4 L1459.2 904.6 L1461.9 908.8 L1464.6 913.1 L1467.3 917.3 L1470.0 921.6 L1472.6 925.9 L1475.2 930.2 L1477.9 934.5 L1480.5 938.9 L1483.0 943.2 L1485.6 947.6 L1488.2 951.9 L1490.7 956.3 L1493.2 960.7 L1495.7 965.1 L1498.2 969.5 L1500.7 973.9 L1503.2 978.3 L1505.6 982.7 L1508.1 987.2 L1510.5 991.6 L1512.9 996.0 L1515.3 1000.5 L1517.7 1005.0 L1520.1 1009.4 L1522.4 1013.9 L1524.8 1018.4 L1527.1 1022.8 L1529.5 1027.3 L1531.8 1031.8 L1534.1 1036.3 L1536.4 1040.7 L1538.7 1045.2 L1541.0 1049.7 L1543.3 1054.2 L1545.6 1058.7 L1547.8 1063.2 L1550.1 1067.7 L1552.3 1072.1 L1554.6 1076.6 L1556.8 1081.1 L1559.0 1085.6 L1561.3 1090.0 L1563.5 1094.5 L1565.7 1099.0 L1567.9 1103.4 L1570.1 1107.9 L1572.3 1112.3 L1574.5 1116.8 L1576.7 1121.2 L1578.9 1125.7 L1581.0 1130.1 L1583.2 1134.6 L1585.4 1139.0 L1587.5 1143.5 L1589.7 1147.9 L1591.8 1152.3 L1593.9 1156.8 L1596.1 1161.2 L1598.2 1165.7 L1600.3 1170.1 L1602.4 1174.6 L1604.5 1179.1 L1606.6 1183.5 L1608.7 1188.0 L1610.7 1192.5 L1612.8 1196.9 L1614.8 1201.4 L1616.9 1205.9 L1618.9 1210.4 L1620.9 1214.9 L1622.9 1219.4 L1624.9 1224.0 L1626.9 1228.5 L1628.9 1233.0 L1630.8 1237.6 L1632.8 1242.2 L1634.7 1246.7 L1636.7 1251.3 L1638.6 1255.9 L1640.5 1260.5 L1642.4 1265.2 L1644.3 1269.8 L1646.2 1274.4 L1648.0 1279.1 L1649.9 1283.8 L1651.7 1288.5 L1653.5 1293.2 L1655.3 1297.9 L1657.1 1302.7 L1658.9 1307.4 L1660.7 1312.2 L1662.5 1316.9 L1664.3 1321.7 L1666.1 1326.4 L1667.9 1331.2 L1669.7 1336.0 L1671.6 1340.7 L1673.4 1345.5 L1675.3 1350.2 L1677.2 1354.9 L1679.1 1359.7 L1681.0 1364.3 L1683.0 1369.0 L1685.0 1373.7 L1687.0 1378.3 L1689.1 1382.9 L1691.2 1387.5 L1693.4 1392.1 L1695.6 1396.6 L1697.8 1401.1 L1700.1 1405.6 L1702.5 1410.0 L1704.9 1414.4 L1707.4 1418.7 L1709.9 1423.0 L1712.5 1427.3 L1715.2 1431.5 L1717.9 1435.6 L1720.8 1439.7 L1723.7 1443.8 L1726.6 1447.8 L1729.7 1451.7 L1732.8 1455.5 L1736.1 1459.3 L1739.4 1462.9 L1742.9 1466.3 L1746.5 1469.7 L1750.2 1472.8 L1754.0 1475.8 L1758.0 1478.5 L1762.1 1481.0 L1766.3 1483.3 L1770.8 1485.4 L1775.3 1487.2 L1780.0 1488.7 L1784.9 1489.9 L1789.8 1490.9 L1794.9 1491.5 L1800.0 1491.5 L1805.2 1491.5 L1810.4 1491.5 L1815.6 1491.5 L1820.0 1491.5 L1880.0 1491.5 L1884.0 1491.5 L1888.0 1491.5 L1892.0 1491.5 L1896.0 1491.5 L1900.0 1491.5 L1904.0 1491.5 L1908.0 1491.5 L1912.0 1491.5 L1916.0 1491.5 L1920.0 1491.5 L1924.0 1491.5 L1928.0 1491.5 L1932.0 1491.5 L1936.0 1491.5 L1940.0 1491.5 L1944.0 1491.5 L1948.0 1491.5 L1952.0 1491.5 L1956.0 1491.5 L1960.0 1491.5 L1964.0 1491.5 L1968.0 1491.5 L1972.0 1491.5 L1976.0 1491.5 L1980.0 1491.5 L1984.0 1491.5 L1988.0 1491.5 L1992.0 1491.5 L1996.0 1491.5 L2000.0 1491.5 L2004.0 1491.5 L2008.0 1491.5 L2012.0 1491.5 L2016.0 1491.5 L2020.0 1491.5 L2024.0 1491.5 L2028.0 1491.5 L2032.0 1491.5 L2036.0 1491.5 L2040.0 1491.5 L2044.0 1491.5 L2048.0 1491.5 L2052.0 1491.5 L2056.0 1491.5 L2060.0 1491.5 L2064.0 1491.5 L2068.0 1491.5 L2072.0 1491.5 L2076.0 1491.5 L2080.0 1491.5 L2084.0 1491.5 L2088.0 1491.5 L2092.0 1491.5 L2096.0 1491.5 L2100.0 1491.5 L2104.0 1491.5 L2108.0 1491.5 L2112.0 1491.5 L2116.0 1491.5 L2120.0 1491.5 L2124.0 1491.5 L2128.0 1491.5 L2132.0 1491.5 L2136.0 1491.5 L2140.0 1491.5 L2144.0 1491.5 L2148.0 1491.5 L2152.0 1491.5 L2156.0 1491.5 L2160.0 1491.5 L2164.0 1491.5 L2168.0 1491.5 L2172.0 1491.5 L2176.0 1491.5 L2180.0 1491.5 L2184.0 1491.5 L2188.0 1491.5 L2192.0 1491.5 L2196.0 1491.5 L2200.0 1491.5 L2204.0 1491.5 L2208.0 1491.5 L2212.0 1491.5 L2216.0 1491.5 L2220.0 1491.5 L2224.0 1491.5 L2228.0 1491.4 L2232.0 1491.4 L2236.0 1491.4 L2240.0 1491.4 L2244.0 1491.3 L2248.0 1491.3 L2252.0 1491.3 L2256.0 1491.3 L2260.0 1491.2 L2264.0 1491.2 L2268.0 1491.1 L2272.0 1491.1 L2276.0 1491.0 L2280.0 1491.0 L2284.0 1490.9 L2288.0 1490.8 L2292.0 1490.7 L2296.0 1490.5 L2300.0 1490.2 L2304.0 1490.0 L2308.0 1489.7 L2312.0 1489.3 L2316.0 1488.8 L2320.0 1488.1 L2323.9 1487.2 L2327.7 1486.1 L2331.3 1484.5 L2334.7 1482.1 L2337.6 1479.4 L2340.0 1476.4 L2342.0 1472.8 L2343.6 1469.0 L2345.0 1465.3 L2346.2 1461.5 L2347.2 1457.6 L2347.9 1453.6 L2348.0 1453.0"/>
<path stroke="#e8384c" stroke-width="8.6" d="M228.7 401.9 L233.7 402.5 L238.7 403.0 L243.6 403.5 L248.6 404.1 L253.6 404.6 L258.6 405.2 L263.6 405.7 L268.6 406.2 L273.6 406.8 L278.6 407.3 L283.6 407.8 L288.6 408.3 L293.6 408.9 L298.5 409.4 L303.5 409.9 L308.5 410.5 L313.5 411.0 L318.5 411.5 L323.5 412.0 L328.5 412.5 L333.4 413.1 L338.4 413.6 L343.4 414.1 L348.4 414.6 L353.4 415.2 L358.3 415.7 L363.3 416.2 L368.3 416.8 L373.3 417.3 L378.3 417.8 L383.2 418.4 L388.2 418.9 L393.2 419.4 L398.2 420.0 L403.1 420.5 L408.1 421.1 L413.1 421.6 L418.0 422.1 L423.0 422.7 L428.0 423.3 L433.0 423.8 L437.9 424.4 L442.9 424.9 L447.9 425.5 L452.8 426.1 L457.8 426.7 L462.7 427.2 L467.7 427.8 L472.7 428.4 L477.6 429.0 L482.6 429.6 L487.5 430.2 L492.5 430.8 L497.4 431.4 L502.4 432.0 L507.3 432.6 L512.3 433.3 L517.2 433.9 L522.2 434.5 L527.1 435.2 L532.1 435.8 L537.0 436.5 L542.0 437.1 L546.9 437.8 L551.8 438.5 L556.8 439.2 L561.7 439.8 L566.7 440.5 L571.6 441.2 L576.5 441.9 L581.5 442.7 L586.4 443.4 L591.3 444.1 L596.2 444.8 L601.2 445.6 L606.1 446.3 L611.0 447.1 L615.9 447.9 L620.9 448.7 L625.8 449.4 L630.7 450.2 L635.6 451.0 L640.5 451.9 L645.4 452.7 L650.3 453.5 L655.2 454.3 L660.1 455.2 L665.0 456.1 L669.9 456.9 L674.9 457.8 L679.7 458.7 L684.6 459.6 L689.5 460.5 L694.4 461.4 L699.3 462.4 L704.2 463.3 L709.1 464.3 L714.0 465.2 L718.9 466.2 L723.8 467.2 L728.6 468.2 L733.5 469.2 L738.4 470.2 L743.3 471.3 L748.1 472.3 L753.0 473.4 L757.9 474.4 L762.7 475.5 L767.6 476.6 L772.5 477.7 L777.3 478.9 L782.2 480.0 L787.0 481.1 L791.9 482.3 L796.7 483.5 L801.6 484.7 L806.4 485.9 L811.3 487.1 L816.1 488.3 L821.0 489.6 L825.8 490.8 L830.6 492.1 L835.5 493.4 L840.3 494.7 L845.1 496.0 L850.0 497.4 L854.8 498.7 L859.6 500.1 L864.4 501.5 L869.2 502.8 L874.0 504.3 L878.9 505.7 L883.7 507.1 L888.5 508.6 L893.3 510.1 L898.1 511.6 L902.9 513.1 L907.7 514.6 L912.4 516.1 L917.2 517.7 L922.0 519.3 L926.8 520.9 L931.6 522.5 L936.3 524.1 L941.1 525.7 L945.8 527.4 L950.6 529.1 L955.3 530.7 L960.1 532.5 L964.8 534.2 L969.5 535.9 L974.3 537.7 L979.0 539.4 L983.7 541.2 L988.4 543.0 L993.1 544.9 L997.8 546.7 L1002.5 548.6 L1007.2 550.5 L1011.8 552.3 L1016.5 554.3 L1021.1 556.2 L1025.8 558.1 L1030.4 560.1 L1035.1 562.1 L1039.7 564.1 L1044.3 566.1 L1048.9 568.1 L1053.5 570.2 L1058.1 572.3 L1062.6 574.4 L1067.2 576.5 L1071.8 578.6 L1076.3 580.7 L1080.9 582.9 L1085.4 585.1 L1089.9 587.3 L1094.4 589.5 L1098.9 591.7 L1103.4 594.0 L1107.9 596.3 L1112.3 598.5 L1116.8 600.9 L1121.2 603.2 L1125.7 605.5 L1130.1 607.9 L1134.5 610.3 L1138.9 612.7 L1143.3 615.1 L1147.7 617.6 L1152.0 620.0 L1156.4 622.5 L1160.7 625.0 L1165.0 627.5 L1169.3 630.1 L1173.6 632.6 L1177.9 635.2 L1182.2 637.8 L1186.4 640.4 L1190.6 643.0 L1194.9 645.7 L1199.1 648.4 L1203.3 651.1 L1207.5 653.8 L1211.6 656.5 L1215.8 659.3 L1219.9 662.1 L1224.0 664.9 L1228.1 667.7 L1232.2 670.5 L1236.3 673.4 L1240.3 676.2 L1244.4 679.1 L1248.4 682.0 L1252.4 685.0 L1256.4 687.9 L1260.4 690.9 L1264.3 693.9 L1268.3 696.9 L1272.2 700.0 L1276.1 703.0 L1280.0 706.1 L1283.8 709.2 L1287.7 712.3 L1291.5 715.5 L1295.3 718.7 L1299.1 721.8 L1302.9 725.1 L1306.7 728.3 L1310.4 731.5 L1314.1 734.8 L1317.8 738.1 L1321.5 741.4 L1325.2 744.7 L1328.8 748.1 L1332.4 751.5 L1336.0 754.9 L1339.6 758.3 L1343.2 761.8 L1346.7 765.2 L1350.2 768.7 L1353.7 772.2 L1357.2 775.7 L1360.6 779.3 L1364.1 782.9 L1367.5 786.5 L1370.9 790.1 L1374.2 793.7 L1377.6 797.4 L1380.9 801.1 L1384.2 804.8 L1387.5 808.5 L1390.7 812.3 L1393.9 816.1 L1397.2 819.9 L1400.3 823.7 L1403.5 827.5 L1406.6 831.4 L1409.7 835.3 L1412.8 839.2 L1415.9 843.1 L1418.9 847.1 L1421.9 851.1 L1424.9 855.1 L1427.9 859.1 L1430.9 863.1 L1433.8 867.2 L1436.7 871.3 L1439.6 875.4 L1442.4 879.5 L1445.3 883.6 L1448.1 887.8 L1450.9 892.0 L1453.7 896.2 L1456.4 900.4 L1459.2 904.6 L1461.9 908.8 L1464.6 913.1 L1467.3 917.3 L1470.0 921.6 L1472.6 925.9 L1475.2 930.2 L1477.9 934.5 L1480.5 938.9 L1483.0 943.2 L1485.6 947.6 L1488.2 951.9 L1490.7 956.3 L1493.2 960.7 L1495.7 965.1 L1498.2 969.5 L1500.7 973.9 L1503.2 978.3 L1505.6 982.7 L1508.1 987.2 L1510.5 991.6 L1512.9 996.0 L1515.3 1000.5 L1517.7 1005.0 L1520.1 1009.4 L1522.4 1013.9 L1524.8 1018.4 L1527.1 1022.8 L1529.5 1027.3 L1531.8 1031.8 L1534.1 1036.3 L1536.4 1040.7 L1538.7 1045.2 L1541.0 1049.7 L1543.3 1054.2 L1545.6 1058.7 L1547.8 1063.2 L1550.1 1067.7 L1552.3 1072.1 L1554.6 1076.6 L1556.8 1081.1 L1559.0 1085.6 L1561.3 1090.0 L1563.5 1094.5 L1565.7 1099.0 L1567.9 1103.4 L1570.1 1107.9 L1572.3 1112.3 L1574.5 1116.8 L1576.7 1121.2 L1578.9 1125.7 L1581.0 1130.1 L1583.2 1134.6 L1585.4 1139.0 L1587.5 1143.5 L1589.7 1147.9 L1591.8 1152.3 L1593.9 1156.8 L1596.1 1161.2 L1598.2 1165.7 L1600.3 1170.1 L1602.4 1174.6 L1604.5 1179.1 L1606.6 1183.5 L1608.7 1188.0 L1610.7 1192.5 L1612.8 1196.9 L1614.8 1201.4 L1616.9 1205.9 L1618.9 1210.4 L1620.9 1214.9 L1622.9 1219.4 L1624.9 1224.0 L1626.9 1228.5 L1628.9 1233.0 L1630.8 1237.6 L1632.8 1242.2 L1634.7 1246.7 L1636.7 1251.3 L1638.6 1255.9 L1640.5 1260.5 L1642.4 1265.2 L1644.3 1269.8 L1646.2 1274.4 L1648.0 1279.1 L1649.9 1283.8 L1651.7 1288.5 L1653.5 1293.2 L1655.3 1297.9 L1657.1 1302.7 L1658.9 1307.4 L1660.7 1312.2 L1662.5 1316.9 L1664.3 1321.7 L1666.1 1326.4 L1667.9 1331.2 L1669.7 1336.0 L1671.6 1340.7 L1673.4 1345.5 L1675.3 1350.2 L1677.2 1354.9 L1679.1 1359.7 L1681.0 1364.3 L1683.0 1369.0 L1685.0 1373.7 L1687.0 1378.3 L1689.1 1382.9 L1691.2 1387.5 L1693.4 1392.1 L1695.6 1396.6 L1697.8 1401.1 L1700.1 1405.6 L1702.5 1410.0 L1704.9 1414.4 L1707.4 1418.7 L1709.9 1423.0 L1712.5 1427.3 L1715.2 1431.5 L1717.9 1435.6 L1720.8 1439.7 L1723.7 1443.8 L1726.6 1447.8 L1729.7 1451.7 L1732.8 1455.5 L1736.1 1459.3 L1739.4 1462.9 L1742.9 1466.3 L1746.5 1469.7 L1750.2 1472.8 L1754.0 1475.8 L1758.0 1478.5 L1762.1 1481.0 L1766.3 1483.3 L1770.8 1485.4 L1775.3 1487.2 L1780.0 1488.7 L1784.9 1489.9 L1789.8 1490.9 L1794.9 1491.5 L1800.0 1491.5 L1805.2 1491.5 L1810.4 1491.5 L1815.6 1491.5 L1820.0 1491.5 L1880.0 1491.5 L1884.0 1491.5 L1888.0 1491.5 L1892.0 1491.5 L1896.0 1491.5 L1900.0 1491.5 L1904.0 1491.5 L1908.0 1491.5 L1912.0 1491.5 L1916.0 1491.5 L1920.0 1491.5 L1924.0 1491.5 L1928.0 1491.5 L1932.0 1491.5 L1936.0 1491.5 L1940.0 1491.5 L1944.0 1491.5 L1948.0 1491.5 L1952.0 1491.5 L1956.0 1491.5 L1960.0 1491.5 L1964.0 1491.5 L1968.0 1491.5 L1972.0 1491.5 L1976.0 1491.5 L1980.0 1491.5 L1984.0 1491.5 L1988.0 1491.5 L1992.0 1491.5 L1996.0 1491.5 L2000.0 1491.5 L2004.0 1491.5 L2008.0 1491.5 L2012.0 1491.5 L2016.0 1491.5 L2020.0 1491.5 L2024.0 1491.5 L2028.0 1491.5 L2032.0 1491.5 L2036.0 1491.5 L2040.0 1491.5 L2044.0 1491.5 L2048.0 1491.5 L2052.0 1491.5 L2056.0 1491.5 L2060.0 1491.5 L2064.0 1491.5 L2068.0 1491.5 L2072.0 1491.5 L2076.0 1491.5 L2080.0 1491.5 L2084.0 1491.5 L2088.0 1491.5 L2092.0 1491.5 L2096.0 1491.5 L2100.0 1491.5 L2104.0 1491.5 L2108.0 1491.5 L2112.0 1491.5 L2116.0 1491.5 L2120.0 1491.5 L2124.0 1491.5 L2128.0 1491.5 L2132.0 1491.5 L2136.0 1491.5 L2140.0 1491.5 L2144.0 1491.5 L2148.0 1491.5 L2152.0 1491.5 L2156.0 1491.5 L2160.0 1491.5 L2164.0 1491.5 L2168.0 1491.5 L2172.0 1491.5 L2176.0 1491.5 L2180.0 1491.5 L2184.0 1491.5 L2188.0 1491.5 L2192.0 1491.5 L2196.0 1491.5 L2200.0 1491.5 L2204.0 1491.5 L2208.0 1491.5 L2212.0 1491.5 L2216.0 1491.5 L2220.0 1491.5 L2224.0 1491.5 L2228.0 1491.4 L2232.0 1491.4 L2236.0 1491.4 L2240.0 1491.4 L2244.0 1491.3 L2248.0 1491.3 L2252.0 1491.3 L2256.0 1491.3 L2260.0 1491.2 L2264.0 1491.2 L2268.0 1491.1 L2272.0 1491.1 L2276.0 1491.0 L2280.0 1491.0 L2284.0 1490.9 L2288.0 1490.8 L2292.0 1490.7 L2296.0 1490.5 L2300.0 1490.2 L2304.0 1490.0 L2308.0 1489.7 L2312.0 1489.3 L2316.0 1488.8 L2320.0 1488.1 L2323.9 1487.2 L2327.7 1486.1 L2331.3 1484.5 L2334.7 1482.1 L2337.6 1479.4 L2340.0 1476.4 L2342.0 1472.8 L2343.6 1469.0 L2345.0 1465.3 L2346.2 1461.5 L2347.2 1457.6 L2347.9 1453.6 L2348.0 1453.0"/>
<path stroke="#bdf3a6" stroke-width="15.0" stroke-opacity="0.75" d="M228.3 411.1 L233.2 411.8 L238.2 412.5 L243.2 413.3 L248.1 414.0 L253.1 414.8 L258.0 415.5 L263.0 416.3 L267.9 417.2 L272.9 418.0 L277.8 418.8 L282.7 419.7 L287.7 420.5 L292.6 421.4 L297.5 422.3 L302.5 423.2 L307.4 424.2 L312.3 425.1 L317.2 426.1 L322.1 427.0 L327.0 428.0 L332.0 429.0 L336.9 430.1 L341.8 431.1 L346.7 432.1 L351.5 433.2 L356.4 434.3 L361.3 435.4 L366.2 436.5 L371.1 437.6 L376.0 438.7 L380.8 439.9 L385.7 441.0 L390.6 442.2 L395.4 443.4 L400.3 444.6 L405.1 445.8 L410.0 447.1 L414.8 448.3 L419.7 449.6 L424.5 450.9 L429.4 452.2 L434.2 453.5 L439.0 454.8 L443.8 456.1 L448.7 457.5 L453.5 458.8 L458.3 460.2 L463.1 461.6 L467.9 463.0 L472.7 464.4 L477.5 465.9 L482.3 467.3 L487.1 468.8 L491.8 470.3 L496.6 471.8 L501.4 473.3 L506.1 474.8 L510.9 476.3 L515.7 477.9 L520.4 479.4 L525.2 481.0 L529.9 482.6 L534.7 484.2 L539.4 485.8 L544.1 487.4 L548.8 489.1 L553.6 490.7 L558.3 492.4 L563.0 494.1 L567.7 495.8 L572.4 497.5 L577.1 499.2 L581.8 501.0 L586.5 502.7 L591.1 504.5 L595.8 506.3 L600.5 508.1 L605.1 509.9 L609.8 511.7 L614.5 513.5 L619.1 515.4 L623.8 517.2 L628.4 519.1 L633.0 521.0 L637.6 522.9 L642.3 524.8 L646.9 526.7 L651.5 528.7 L656.1 530.6 L660.7 532.6 L665.3 534.6 L669.9 536.6 L674.5 538.6 L679.0 540.6 L683.6 542.6 L688.2 544.7 L692.7 546.7 L697.3 548.8 L701.8 550.9 L706.4 553.0 L710.9 555.1 L715.4 557.2 L719.9 559.4 L724.5 561.5 L729.0 563.7 L733.5 565.8 L738.0 568.0 L742.5 570.2 L746.9 572.4 L751.4 574.7 L755.9 576.9 L760.4 579.2 L764.8 581.4 L769.3 583.7 L773.7 586.0 L778.2 588.3 L782.6 590.6 L787.0 592.9 L791.4 595.3 L795.8 597.6 L800.3 600.0 L804.7 602.4 L809.0 604.8 L813.4 607.2 L817.8 609.6 L822.2 612.0 L826.5 614.4 L830.9 616.9 L835.3 619.3 L839.6 621.8 L843.9 624.3 L848.3 626.8 L852.6 629.3 L856.9 631.8 L861.2 634.4 L865.5 636.9 L869.8 639.5 L874.1 642.1 L878.4 644.6 L882.6 647.2 L886.9 649.9 L891.1 652.5 L895.4 655.1 L899.6 657.8 L903.9 660.4 L908.1 663.1 L912.3 665.8 L916.5 668.5 L920.7 671.2 L924.9 673.9 L929.1 676.6 L933.3 679.3 L937.5 682.1 L941.6 684.9 L945.8 687.6 L949.9 690.4 L954.1 693.2 L958.2 696.0 L962.3 698.8 L966.4 701.7 L970.5 704.5 L974.6 707.4 L978.7 710.2 L982.8 713.1 L986.9 716.0 L990.9 718.9 L995.0 721.8 L999.0 724.8 L1003.1 727.7 L1007.1 730.6 L1011.1 733.6 L1015.2 736.6 L1019.2 739.5 L1023.2 742.5 L1027.1 745.5 L1031.1 748.6 L1035.1 751.6 L1039.1 754.6 L1043.0 757.7 L1047.0 760.7 L1050.9 763.8 L1054.8 766.9 L1058.7 770.0 L1062.6 773.1 L1066.5 776.2 L1070.4 779.3 L1074.3 782.5 L1078.2 785.6 L1082.1 788.8 L1085.9 791.9 L1089.8 795.1 L1093.6 798.3 L1097.4 801.5 L1101.2 804.7 L1105.0 807.9 L1108.8 811.2 L1112.6 814.4 L1116.4 817.7 L1120.2 820.9 L1123.9 824.2 L1127.7 827.5 L1131.4 830.8 L1135.2 834.1 L1138.9 837.4 L1142.6 840.8 L1146.3 844.1 L1150.0 847.5 L1153.7 850.8 L1157.4 854.2 L1161.0 857.6 L1164.7 861.0 L1168.3 864.4 L1171.9 867.8 L1175.6 871.2 L1179.2 874.6 L1182.8 878.1 L1186.4 881.5 L1190.0 885.0 L1193.5 888.5 L1197.1 892.0 L1200.6 895.5 L1204.2 899.0 L1207.7 902.5 L1211.2 906.0 L1214.8 909.6 L1218.3 913.1 L1221.7 916.7 L1225.2 920.2 L1228.7 923.8 L1232.2 927.4 L1235.6 931.0 L1239.0 934.6 L1242.5 938.2 L1245.9 941.8 L1249.3 945.5 L1252.7 949.1 L1256.1 952.8 L1259.5 956.4 L1262.8 960.1 L1266.2 963.8 L1269.6 967.4 L1272.9 971.1 L1276.2 974.8 L1279.6 978.6 L1282.9 982.3 L1286.2 986.0 L1289.5 989.7 L1292.8 993.5 L1296.1 997.2 L1299.4 1001.0 L1302.7 1004.8 L1305.9 1008.5 L1309.2 1012.3 L1312.4 1016.1 L1315.7 1019.9 L1318.9 1023.7 L1322.1 1027.5 L1325.4 1031.3 L1328.6 1035.2 L1331.8 1039.0 L1335.0 1042.8 L1338.2 1046.7 L1341.4 1050.5 L1344.5 1054.4 L1347.7 1058.2 L1350.9 1062.1 L1354.1 1066.0 L1357.2 1069.9 L1360.4 1073.8 L1363.5 1077.6 L1366.7 1081.5 L1369.8 1085.4 L1372.9 1089.4 L1376.1 1093.3 L1379.2 1097.2 L1382.3 1101.1 L1385.4 1105.0 L1388.5 1109.0 L1391.6 1112.9 L1394.7 1116.9 L1397.8 1120.8 L1400.9 1124.8 L1404.0 1128.7 L1407.1 1132.7 L1410.2 1136.6 L1413.2 1140.6 L1416.3 1144.6 L1419.4 1148.6 L1422.4 1152.5 L1425.5 1156.5 L1428.6 1160.5 L1431.6 1164.5 L1434.7 1168.5 L1437.7 1172.5 L1440.8 1176.5 L1443.8 1180.5 L1446.8 1184.5 L1449.9 1188.5 L1452.9 1192.5 L1456.0 1196.5 L1459.0 1200.6 L1462.0 1204.6 L1465.1 1208.6 L1468.1 1212.6 L1471.1 1216.6 L1474.1 1220.7 L1477.2 1224.7 L1480.2 1228.7 L1483.2 1232.8 L1486.2 1236.8 L1489.2 1240.8 L1492.3 1244.9 L1495.3 1248.9 L1498.3 1253.0 L1501.3 1257.0 L1504.3 1261.0 L1507.4 1265.1 L1510.4 1269.1 L1513.4 1273.2 L1516.4 1277.2 L1519.4 1281.3 L1522.5 1285.3 L1525.5 1289.4 L1528.5 1293.4 L1531.5 1297.4 L1534.5 1301.5 L1537.6 1305.5 L1540.6 1309.6 L1543.6 1313.6 L1546.6 1317.7 L1549.7 1321.7 L1552.7 1325.8 L1555.7 1329.8 L1558.8 1333.8 L1561.8 1337.9 L1564.8 1341.9 L1567.9 1346.0 L1570.9 1350.0 L1574.0 1354.0 L1577.0 1358.1 L1580.1 1362.1 L1583.2 1366.1 L1586.3 1370.1 L1589.4 1374.0 L1592.5 1378.0 L1595.6 1381.9 L1598.8 1385.8 L1601.9 1389.7 L1605.1 1393.5 L1608.4 1397.3 L1611.6 1401.1 L1614.9 1404.9 L1618.2 1408.6 L1621.5 1412.3 L1624.9 1415.9 L1628.3 1419.5 L1631.7 1423.0 L1635.2 1426.5 L1638.7 1429.9 L1642.3 1433.3 L1645.9 1436.6 L1649.5 1439.9 L1653.2 1443.1 L1656.9 1446.2 L1660.7 1449.3 L1664.5 1452.3 L1668.4 1455.3 L1672.4 1458.1 L1676.4 1460.9 L1680.4 1463.6 L1684.5 1466.3 L1688.7 1468.8 L1693.0 1471.3 L1697.3 1473.7 L1701.6 1476.0 L1706.1 1478.1 L1710.5 1480.2 L1715.1 1482.1 L1719.7 1483.9 L1724.4 1485.5 L1729.1 1487.0 L1733.9 1488.3 L1738.7 1489.4 L1743.6 1490.4 L1748.5 1491.2 L1753.5 1491.5 L1758.6 1491.5 L1763.6 1491.5 L1768.7 1491.5 L1773.9 1491.5 L1779.1 1491.5 L1780.0 1491.5 L1840.0 1491.5 L1844.0 1491.5 L1848.0 1491.5 L1852.0 1491.5 L1856.0 1491.5 L1860.0 1491.5 L1864.0 1491.5 L1868.0 1491.5 L1872.0 1491.5 L1876.0 1491.5 L1880.0 1491.5 L1884.0 1491.5 L1888.0 1491.5 L1892.0 1491.5 L1896.0 1491.5 L1900.0 1491.5 L1904.0 1491.5 L1908.0 1491.5 L1912.0 1491.5 L1916.0 1491.5 L1920.0 1491.5 L1924.0 1491.5 L1928.0 1491.5 L1932.0 1491.5 L1936.0 1491.5 L1940.0 1491.5 L1944.0 1491.5 L1948.0 1491.5 L1952.0 1491.5 L1956.0 1491.5 L1960.0 1491.5 L1964.0 1491.5 L1968.0 1491.5 L1972.0 1491.5 L1976.0 1491.5 L1980.0 1491.5 L1984.0 1491.5 L1988.0 1491.5 L1992.0 1491.5 L1996.0 1491.5 L2000.0 1491.5 L2004.0 1491.5 L2008.0 1491.5 L2012.0 1491.5 L2016.0 1491.5 L2020.0 1491.5 L2024.0 1491.5 L2028.0 1491.5 L2032.0 1491.5 L2036.0 1491.5 L2040.0 1491.5 L2044.0 1491.5 L2048.0 1491.5 L2052.0 1491.5 L2056.0 1491.5 L2060.0 1491.5 L2064.0 1491.5 L2068.0 1491.5 L2072.0 1491.5 L2076.0 1491.5 L2080.0 1491.5 L2084.0 1491.5 L2088.0 1491.5 L2092.0 1491.5 L2096.0 1491.5 L2100.0 1491.5 L2104.0 1491.5 L2108.0 1491.5 L2112.0 1491.5 L2116.0 1491.5 L2120.0 1491.5 L2124.0 1491.5 L2128.0 1491.5 L2132.0 1491.5 L2136.0 1491.5 L2140.0 1491.5 L2144.0 1491.5 L2148.0 1491.5 L2152.0 1491.5 L2156.0 1491.5 L2160.0 1491.5 L2164.0 1491.5 L2168.0 1491.5 L2172.0 1491.5 L2176.0 1491.5 L2180.0 1491.5 L2184.0 1491.5 L2188.0 1491.5 L2192.0 1491.5 L2196.0 1491.5 L2200.0 1491.5 L2204.0 1491.5 L2208.0 1491.5 L2212.0 1491.5 L2216.0 1491.5 L2220.0 1491.5 L2224.0 1491.5 L2228.0 1491.5 L2232.0 1491.5 L2236.0 1491.5 L2240.0 1491.5 L2244.0 1491.5 L2248.0 1491.5 L2252.0 1491.5 L2256.0 1491.5 L2260.0 1491.5 L2264.0 1491.5 L2268.0 1491.5 L2272.0 1491.5 L2276.0 1491.5 L2280.0 1491.5 L2284.0 1491.5 L2288.0 1491.5 L2292.0 1491.4 L2296.0 1491.3 L2300.0 1491.1 L2304.0 1490.8 L2308.0 1490.5 L2312.0 1490.2 L2316.0 1489.9 L2320.0 1489.5 L2324.0 1488.8 L2327.9 1488.1 L2331.7 1487.1 L2335.5 1485.6 L2339.2 1483.5 L2342.0 1481.0 L2344.1 1478.1 L2346.0 1474.6 L2347.3 1470.5 L2348.0 1467.0"/>
<path stroke="#5aa843" stroke-width="8.6" d="M228.3 411.1 L233.2 411.8 L238.2 412.5 L243.2 413.3 L248.1 414.0 L253.1 414.8 L258.0 415.5 L263.0 416.3 L267.9 417.2 L272.9 418.0 L277.8 418.8 L282.7 419.7 L287.7 420.5 L292.6 421.4 L297.5 422.3 L302.5 423.2 L307.4 424.2 L312.3 425.1 L317.2 426.1 L322.1 427.0 L327.0 428.0 L332.0 429.0 L336.9 430.1 L341.8 431.1 L346.7 432.1 L351.5 433.2 L356.4 434.3 L361.3 435.4 L366.2 436.5 L371.1 437.6 L376.0 438.7 L380.8 439.9 L385.7 441.0 L390.6 442.2 L395.4 443.4 L400.3 444.6 L405.1 445.8 L410.0 447.1 L414.8 448.3 L419.7 449.6 L424.5 450.9 L429.4 452.2 L434.2 453.5 L439.0 454.8 L443.8 456.1 L448.7 457.5 L453.5 458.8 L458.3 460.2 L463.1 461.6 L467.9 463.0 L472.7 464.4 L477.5 465.9 L482.3 467.3 L487.1 468.8 L491.8 470.3 L496.6 471.8 L501.4 473.3 L506.1 474.8 L510.9 476.3 L515.7 477.9 L520.4 479.4 L525.2 481.0 L529.9 482.6 L534.7 484.2 L539.4 485.8 L544.1 487.4 L548.8 489.1 L553.6 490.7 L558.3 492.4 L563.0 494.1 L567.7 495.8 L572.4 497.5 L577.1 499.2 L581.8 501.0 L586.5 502.7 L591.1 504.5 L595.8 506.3 L600.5 508.1 L605.1 509.9 L609.8 511.7 L614.5 513.5 L619.1 515.4 L623.8 517.2 L628.4 519.1 L633.0 521.0 L637.6 522.9 L642.3 524.8 L646.9 526.7 L651.5 528.7 L656.1 530.6 L660.7 532.6 L665.3 534.6 L669.9 536.6 L674.5 538.6 L679.0 540.6 L683.6 542.6 L688.2 544.7 L692.7 546.7 L697.3 548.8 L701.8 550.9 L706.4 553.0 L710.9 555.1 L715.4 557.2 L719.9 559.4 L724.5 561.5 L729.0 563.7 L733.5 565.8 L738.0 568.0 L742.5 570.2 L746.9 572.4 L751.4 574.7 L755.9 576.9 L760.4 579.2 L764.8 581.4 L769.3 583.7 L773.7 586.0 L778.2 588.3 L782.6 590.6 L787.0 592.9 L791.4 595.3 L795.8 597.6 L800.3 600.0 L804.7 602.4 L809.0 604.8 L813.4 607.2 L817.8 609.6 L822.2 612.0 L826.5 614.4 L830.9 616.9 L835.3 619.3 L839.6 621.8 L843.9 624.3 L848.3 626.8 L852.6 629.3 L856.9 631.8 L861.2 634.4 L865.5 636.9 L869.8 639.5 L874.1 642.1 L878.4 644.6 L882.6 647.2 L886.9 649.9 L891.1 652.5 L895.4 655.1 L899.6 657.8 L903.9 660.4 L908.1 663.1 L912.3 665.8 L916.5 668.5 L920.7 671.2 L924.9 673.9 L929.1 676.6 L933.3 679.3 L937.5 682.1 L941.6 684.9 L945.8 687.6 L949.9 690.4 L954.1 693.2 L958.2 696.0 L962.3 698.8 L966.4 701.7 L970.5 704.5 L974.6 707.4 L978.7 710.2 L982.8 713.1 L986.9 716.0 L990.9 718.9 L995.0 721.8 L999.0 724.8 L1003.1 727.7 L1007.1 730.6 L1011.1 733.6 L1015.2 736.6 L1019.2 739.5 L1023.2 742.5 L1027.1 745.5 L1031.1 748.6 L1035.1 751.6 L1039.1 754.6 L1043.0 757.7 L1047.0 760.7 L1050.9 763.8 L1054.8 766.9 L1058.7 770.0 L1062.6 773.1 L1066.5 776.2 L1070.4 779.3 L1074.3 782.5 L1078.2 785.6 L1082.1 788.8 L1085.9 791.9 L1089.8 795.1 L1093.6 798.3 L1097.4 801.5 L1101.2 804.7 L1105.0 807.9 L1108.8 811.2 L1112.6 814.4 L1116.4 817.7 L1120.2 820.9 L1123.9 824.2 L1127.7 827.5 L1131.4 830.8 L1135.2 834.1 L1138.9 837.4 L1142.6 840.8 L1146.3 844.1 L1150.0 847.5 L1153.7 850.8 L1157.4 854.2 L1161.0 857.6 L1164.7 861.0 L1168.3 864.4 L1171.9 867.8 L1175.6 871.2 L1179.2 874.6 L1182.8 878.1 L1186.4 881.5 L1190.0 885.0 L1193.5 888.5 L1197.1 892.0 L1200.6 895.5 L1204.2 899.0 L1207.7 902.5 L1211.2 906.0 L1214.8 909.6 L1218.3 913.1 L1221.7 916.7 L1225.2 920.2 L1228.7 923.8 L1232.2 927.4 L1235.6 931.0 L1239.0 934.6 L1242.5 938.2 L1245.9 941.8 L1249.3 945.5 L1252.7 949.1 L1256.1 952.8 L1259.5 956.4 L1262.8 960.1 L1266.2 963.8 L1269.6 967.4 L1272.9 971.1 L1276.2 974.8 L1279.6 978.6 L1282.9 982.3 L1286.2 986.0 L1289.5 989.7 L1292.8 993.5 L1296.1 997.2 L1299.4 1001.0 L1302.7 1004.8 L1305.9 1008.5 L1309.2 1012.3 L1312.4 1016.1 L1315.7 1019.9 L1318.9 1023.7 L1322.1 1027.5 L1325.4 1031.3 L1328.6 1035.2 L1331.8 1039.0 L1335.0 1042.8 L1338.2 1046.7 L1341.4 1050.5 L1344.5 1054.4 L1347.7 1058.2 L1350.9 1062.1 L1354.1 1066.0 L1357.2 1069.9 L1360.4 1073.8 L1363.5 1077.6 L1366.7 1081.5 L1369.8 1085.4 L1372.9 1089.4 L1376.1 1093.3 L1379.2 1097.2 L1382.3 1101.1 L1385.4 1105.0 L1388.5 1109.0 L1391.6 1112.9 L1394.7 1116.9 L1397.8 1120.8 L1400.9 1124.8 L1404.0 1128.7 L1407.1 1132.7 L1410.2 1136.6 L1413.2 1140.6 L1416.3 1144.6 L1419.4 1148.6 L1422.4 1152.5 L1425.5 1156.5 L1428.6 1160.5 L1431.6 1164.5 L1434.7 1168.5 L1437.7 1172.5 L1440.8 1176.5 L1443.8 1180.5 L1446.8 1184.5 L1449.9 1188.5 L1452.9 1192.5 L1456.0 1196.5 L1459.0 1200.6 L1462.0 1204.6 L1465.1 1208.6 L1468.1 1212.6 L1471.1 1216.6 L1474.1 1220.7 L1477.2 1224.7 L1480.2 1228.7 L1483.2 1232.8 L1486.2 1236.8 L1489.2 1240.8 L1492.3 1244.9 L1495.3 1248.9 L1498.3 1253.0 L1501.3 1257.0 L1504.3 1261.0 L1507.4 1265.1 L1510.4 1269.1 L1513.4 1273.2 L1516.4 1277.2 L1519.4 1281.3 L1522.5 1285.3 L1525.5 1289.4 L1528.5 1293.4 L1531.5 1297.4 L1534.5 1301.5 L1537.6 1305.5 L1540.6 1309.6 L1543.6 1313.6 L1546.6 1317.7 L1549.7 1321.7 L1552.7 1325.8 L1555.7 1329.8 L1558.8 1333.8 L1561.8 1337.9 L1564.8 1341.9 L1567.9 1346.0 L1570.9 1350.0 L1574.0 1354.0 L1577.0 1358.1 L1580.1 1362.1 L1583.2 1366.1 L1586.3 1370.1 L1589.4 1374.0 L1592.5 1378.0 L1595.6 1381.9 L1598.8 1385.8 L1601.9 1389.7 L1605.1 1393.5 L1608.4 1397.3 L1611.6 1401.1 L1614.9 1404.9 L1618.2 1408.6 L1621.5 1412.3 L1624.9 1415.9 L1628.3 1419.5 L1631.7 1423.0 L1635.2 1426.5 L1638.7 1429.9 L1642.3 1433.3 L1645.9 1436.6 L1649.5 1439.9 L1653.2 1443.1 L1656.9 1446.2 L1660.7 1449.3 L1664.5 1452.3 L1668.4 1455.3 L1672.4 1458.1 L1676.4 1460.9 L1680.4 1463.6 L1684.5 1466.3 L1688.7 1468.8 L1693.0 1471.3 L1697.3 1473.7 L1701.6 1476.0 L1706.1 1478.1 L1710.5 1480.2 L1715.1 1482.1 L1719.7 1483.9 L1724.4 1485.5 L1729.1 1487.0 L1733.9 1488.3 L1738.7 1489.4 L1743.6 1490.4 L1748.5 1491.2 L1753.5 1491.5 L1758.6 1491.5 L1763.6 1491.5 L1768.7 1491.5 L1773.9 1491.5 L1779.1 1491.5 L1780.0 1491.5 L1840.0 1491.5 L1844.0 1491.5 L1848.0 1491.5 L1852.0 1491.5 L1856.0 1491.5 L1860.0 1491.5 L1864.0 1491.5 L1868.0 1491.5 L1872.0 1491.5 L1876.0 1491.5 L1880.0 1491.5 L1884.0 1491.5 L1888.0 1491.5 L1892.0 1491.5 L1896.0 1491.5 L1900.0 1491.5 L1904.0 1491.5 L1908.0 1491.5 L1912.0 1491.5 L1916.0 1491.5 L1920.0 1491.5 L1924.0 1491.5 L1928.0 1491.5 L1932.0 1491.5 L1936.0 1491.5 L1940.0 1491.5 L1944.0 1491.5 L1948.0 1491.5 L1952.0 1491.5 L1956.0 1491.5 L1960.0 1491.5 L1964.0 1491.5 L1968.0 1491.5 L1972.0 1491.5 L1976.0 1491.5 L1980.0 1491.5 L1984.0 1491.5 L1988.0 1491.5 L1992.0 1491.5 L1996.0 1491.5 L2000.0 1491.5 L2004.0 1491.5 L2008.0 1491.5 L2012.0 1491.5 L2016.0 1491.5 L2020.0 1491.5 L2024.0 1491.5 L2028.0 1491.5 L2032.0 1491.5 L2036.0 1491.5 L2040.0 1491.5 L2044.0 1491.5 L2048.0 1491.5 L2052.0 1491.5 L2056.0 1491.5 L2060.0 1491.5 L2064.0 1491.5 L2068.0 1491.5 L2072.0 1491.5 L2076.0 1491.5 L2080.0 1491.5 L2084.0 1491.5 L2088.0 1491.5 L2092.0 1491.5 L2096.0 1491.5 L2100.0 1491.5 L2104.0 1491.5 L2108.0 1491.5 L2112.0 1491.5 L2116.0 1491.5 L2120.0 1491.5 L2124.0 1491.5 L2128.0 1491.5 L2132.0 1491.5 L2136.0 1491.5 L2140.0 1491.5 L2144.0 1491.5 L2148.0 1491.5 L2152.0 1491.5 L2156.0 1491.5 L2160.0 1491.5 L2164.0 1491.5 L2168.0 1491.5 L2172.0 1491.5 L2176.0 1491.5 L2180.0 1491.5 L2184.0 1491.5 L2188.0 1491.5 L2192.0 1491.5 L2196.0 1491.5 L2200.0 1491.5 L2204.0 1491.5 L2208.0 1491.5 L2212.0 1491.5 L2216.0 1491.5 L2220.0 1491.5 L2224.0 1491.5 L2228.0 1491.5 L2232.0 1491.5 L2236.0 1491.5 L2240.0 1491.5 L2244.0 1491.5 L2248.0 1491.5 L2252.0 1491.5 L2256.0 1491.5 L2260.0 1491.5 L2264.0 1491.5 L2268.0 1491.5 L2272.0 1491.5 L2276.0 1491.5 L2280.0 1491.5 L2284.0 1491.5 L2288.0 1491.5 L2292.0 1491.4 L2296.0 1491.3 L2300.0 1491.1 L2304.0 1490.8 L2308.0 1490.5 L2312.0 1490.2 L2316.0 1489.9 L2320.0 1489.5 L2324.0 1488.8 L2327.9 1488.1 L2331.7 1487.1 L2335.5 1485.6 L2339.2 1483.5 L2342.0 1481.0 L2344.1 1478.1 L2346.0 1474.6 L2347.3 1470.5 L2348.0 1467.0"/>
<path stroke="#fff3a0" stroke-width="15.0" stroke-opacity="0.75" d="M229.0 449.9 L233.7 451.8 L238.4 453.5 L243.1 455.1 L247.8 456.7 L252.6 458.2 L257.4 459.6 L262.2 461.0 L267.0 462.3 L271.9 463.5 L276.7 464.7 L281.6 465.9 L286.5 467.1 L291.4 468.2 L296.3 469.3 L301.2 470.4 L306.1 471.4 L311.0 472.5 L315.9 473.6 L320.8 474.7 L325.7 475.8 L330.5 476.9 L335.4 478.1 L340.3 479.2 L345.1 480.5 L350.0 481.7 L354.8 483.1 L359.6 484.4 L364.3 485.9 L369.1 487.4 L373.8 489.0 L378.5 490.6 L383.2 492.4 L387.8 494.2 L392.5 496.1 L397.1 498.1 L401.7 500.1 L406.2 502.1 L410.8 504.2 L415.3 506.3 L419.8 508.5 L424.3 510.6 L428.8 512.8 L433.3 515.0 L437.9 517.1 L442.4 519.2 L446.9 521.3 L451.5 523.2 L456.1 525.1 L460.8 526.9 L465.5 528.5 L470.2 530.1 L474.9 531.6 L479.7 533.0 L484.5 534.4 L489.3 535.8 L494.1 537.1 L498.9 538.5 L503.7 539.9 L508.5 541.4 L513.2 542.9 L517.9 544.5 L522.6 546.1 L527.3 547.9 L532.0 549.7 L536.6 551.5 L541.3 553.4 L545.9 555.3 L550.5 557.3 L555.1 559.2 L559.7 561.2 L564.3 563.2 L568.9 565.2 L573.5 567.2 L578.1 569.3 L582.7 571.3 L587.2 573.3 L591.8 575.4 L596.4 577.5 L600.9 579.6 L605.5 581.7 L610.0 583.9 L614.5 586.1 L619.0 588.3 L623.5 590.5 L628.0 592.7 L632.4 595.0 L636.8 597.4 L641.3 599.7 L645.7 602.1 L650.0 604.5 L654.4 607.0 L658.7 609.5 L663.0 612.0 L667.3 614.5 L671.6 617.1 L675.9 619.7 L680.1 622.4 L684.3 625.0 L688.6 627.7 L692.8 630.4 L697.0 633.1 L701.2 635.8 L705.3 638.6 L709.5 641.3 L713.7 644.0 L717.9 646.8 L722.1 649.5 L726.2 652.3 L730.4 655.0 L734.6 657.7 L738.8 660.4 L743.0 663.1 L747.1 665.8 L751.3 668.5 L755.6 671.1 L759.8 673.8 L764.0 676.4 L768.2 679.1 L772.4 681.7 L776.6 684.4 L780.9 687.0 L785.1 689.6 L789.3 692.2 L793.5 694.9 L797.7 697.5 L802.0 700.1 L806.2 702.8 L810.4 705.4 L814.6 708.1 L818.8 710.8 L823.0 713.4 L827.2 716.1 L831.3 718.8 L835.5 721.6 L839.7 724.3 L843.8 727.1 L848.0 729.8 L852.1 732.6 L856.2 735.5 L860.3 738.3 L864.4 741.2 L868.5 744.0 L872.6 746.9 L876.7 749.9 L880.7 752.8 L884.8 755.7 L888.8 758.7 L892.8 761.7 L896.8 764.7 L900.8 767.7 L904.8 770.8 L908.8 773.8 L912.8 776.9 L916.7 780.0 L920.7 783.1 L924.6 786.2 L928.5 789.4 L932.4 792.5 L936.3 795.7 L940.2 798.9 L944.1 802.1 L947.9 805.3 L951.8 808.5 L955.6 811.7 L959.5 815.0 L963.3 818.2 L967.1 821.5 L970.9 824.8 L974.7 828.1 L978.4 831.4 L982.2 834.7 L985.9 838.0 L989.7 841.3 L993.4 844.7 L997.1 848.0 L1000.8 851.4 L1004.5 854.8 L1008.2 858.2 L1011.8 861.5 L1015.5 864.9 L1019.1 868.4 L1022.7 871.8 L1026.4 875.2 L1030.0 878.6 L1033.6 882.1 L1037.2 885.5 L1040.8 889.0 L1044.3 892.5 L1047.9 896.0 L1051.4 899.5 L1055.0 903.0 L1058.5 906.5 L1062.0 910.0 L1065.6 913.5 L1069.1 917.0 L1072.6 920.6 L1076.1 924.1 L1079.5 927.7 L1083.0 931.2 L1086.5 934.8 L1089.9 938.4 L1093.4 941.9 L1096.8 945.5 L1100.3 949.1 L1103.7 952.7 L1107.1 956.3 L1110.5 959.9 L1113.9 963.6 L1117.3 967.2 L1120.7 970.8 L1124.1 974.5 L1127.5 978.1 L1130.9 981.8 L1134.3 985.4 L1137.6 989.1 L1141.0 992.7 L1144.3 996.4 L1147.7 1000.1 L1151.0 1003.8 L1154.4 1007.5 L1157.7 1011.2 L1161.0 1014.9 L1164.3 1018.6 L1167.7 1022.3 L1171.0 1026.0 L1174.3 1029.7 L1177.6 1033.4 L1180.9 1037.2 L1184.2 1040.9 L1187.5 1044.6 L1190.8 1048.4 L1194.0 1052.1 L1197.3 1055.8 L1200.6 1059.6 L1203.9 1063.3 L1207.2 1067.1 L1210.4 1070.9 L1213.7 1074.6 L1217.0 1078.4 L1220.2 1082.2 L1223.5 1085.9 L1226.7 1089.7 L1230.0 1093.5 L1233.3 1097.3 L1236.5 1101.0 L1239.8 1104.8 L1243.0 1108.6 L1246.3 1112.4 L1249.5 1116.2 L1252.8 1120.0 L1256.0 1123.8 L1259.3 1127.6 L1262.5 1131.4 L1265.7 1135.2 L1269.0 1139.0 L1272.2 1142.8 L1275.5 1146.6 L1278.7 1150.4 L1282.0 1154.2 L1285.2 1158.0 L1288.5 1161.8 L1291.7 1165.6 L1295.0 1169.4 L1298.2 1173.2 L1301.5 1177.0 L1304.7 1180.9 L1308.0 1184.7 L1311.2 1188.5 L1314.5 1192.3 L1317.8 1196.1 L1321.0 1199.9 L1324.3 1203.7 L1327.6 1207.5 L1330.8 1211.3 L1334.1 1215.1 L1337.4 1218.9 L1340.7 1222.7 L1343.9 1226.5 L1347.2 1230.3 L1350.5 1234.1 L1353.8 1237.9 L1357.1 1241.7 L1360.4 1245.5 L1363.7 1249.3 L1367.0 1253.1 L1370.3 1256.9 L1373.6 1260.7 L1377.0 1264.5 L1380.3 1268.3 L1383.6 1272.1 L1387.0 1275.8 L1390.3 1279.6 L1393.6 1283.4 L1397.0 1287.2 L1400.4 1290.9 L1403.7 1294.7 L1407.1 1298.5 L1410.5 1302.2 L1413.8 1306.0 L1417.2 1309.7 L1420.6 1313.5 L1424.0 1317.2 L1427.4 1321.0 L1430.8 1324.7 L1434.3 1328.4 L1437.7 1332.2 L1441.1 1335.9 L1444.6 1339.6 L1448.0 1343.3 L1451.5 1347.0 L1455.0 1350.7 L1458.4 1354.4 L1461.9 1358.1 L1465.4 1361.7 L1468.9 1365.4 L1472.5 1369.0 L1476.0 1372.6 L1479.6 1376.2 L1483.2 1379.8 L1486.8 1383.3 L1490.4 1386.8 L1494.0 1390.3 L1497.7 1393.7 L1501.3 1397.2 L1505.0 1400.5 L1508.8 1403.9 L1512.5 1407.2 L1516.3 1410.5 L1520.1 1413.7 L1523.9 1416.9 L1527.7 1420.0 L1531.6 1423.1 L1535.5 1426.2 L1539.5 1429.2 L1543.4 1432.1 L1547.4 1435.0 L1551.4 1437.8 L1555.5 1440.6 L1559.6 1443.3 L1563.7 1446.0 L1567.9 1448.6 L1572.1 1451.1 L1576.3 1453.6 L1580.6 1456.0 L1584.9 1458.3 L1589.3 1460.6 L1593.7 1462.7 L1598.1 1464.9 L1602.6 1466.9 L1607.2 1468.8 L1611.7 1470.7 L1616.3 1472.5 L1621.0 1474.2 L1625.7 1475.9 L1630.4 1477.4 L1635.2 1478.9 L1640.0 1480.3 L1644.8 1481.6 L1649.6 1482.9 L1654.5 1484.1 L1659.4 1485.2 L1664.3 1486.2 L1669.3 1487.2 L1674.2 1488.1 L1679.2 1488.9 L1684.2 1489.6 L1689.1 1490.3 L1694.1 1490.9 L1699.2 1491.4 L1704.2 1491.9 L1709.2 1492.3 L1714.2 1492.6 L1719.2 1492.7 L1724.2 1492.7 L1729.2 1492.7 L1734.2 1492.7 L1739.2 1492.7 L1744.2 1492.7 L1749.2 1492.7 L1754.1 1492.7 L1759.0 1492.5 L1760.0 1492.7 L1820.0 1492.7 L1824.0 1492.7 L1828.0 1492.7 L1832.0 1492.7 L1836.0 1492.7 L1840.0 1492.7 L1844.0 1492.7 L1848.0 1492.7 L1852.0 1492.7 L1856.0 1492.7 L1860.0 1492.7 L1864.0 1492.7 L1868.0 1492.7 L1872.0 1492.7 L1876.0 1492.7 L1880.0 1492.7 L1884.0 1492.7 L1888.0 1492.7 L1892.0 1492.7 L1896.0 1492.7 L1900.0 1492.7 L1904.0 1492.7 L1908.0 1492.7 L1912.0 1492.7 L1916.0 1492.7 L1920.0 1492.7 L1924.0 1492.7 L1928.0 1492.7 L1932.0 1492.7 L1936.0 1492.7 L1940.0 1492.7 L1944.0 1492.7 L1948.0 1492.7 L1952.0 1492.7 L1956.0 1492.7 L1960.0 1492.7 L1964.0 1492.7 L1968.0 1492.7 L1972.0 1492.7 L1976.0 1492.7 L1980.0 1492.7 L1984.0 1492.7 L1988.0 1492.7 L1992.0 1492.7 L1996.0 1492.7 L2000.0 1492.7 L2004.0 1492.7 L2008.0 1492.7 L2012.0 1492.7 L2016.0 1492.7 L2020.0 1492.7 L2024.0 1492.7 L2028.0 1492.7 L2032.0 1492.7 L2036.0 1492.7 L2040.0 1492.7 L2044.0 1492.7 L2048.0 1492.7 L2052.0 1492.7 L2056.0 1492.7 L2060.0 1492.7 L2064.0 1492.7 L2068.0 1492.7 L2072.0 1492.7 L2076.0 1492.7 L2080.0 1492.7 L2084.0 1492.7 L2088.0 1492.7 L2092.0 1492.7 L2096.0 1492.7 L2100.0 1492.7 L2104.0 1492.7 L2108.0 1492.7 L2112.0 1492.7 L2116.0 1492.7 L2120.0 1492.7 L2124.0 1492.7 L2128.0 1492.7 L2132.0 1492.7 L2136.0 1492.7 L2140.0 1492.7 L2144.0 1492.7 L2148.0 1492.7 L2152.0 1492.7 L2156.0 1492.7 L2160.0 1492.7 L2164.0 1492.7 L2168.0 1492.7 L2172.0 1492.7 L2176.0 1492.7 L2180.0 1492.7 L2184.0 1492.7 L2188.0 1492.7 L2192.0 1492.7 L2196.0 1492.7 L2200.0 1492.7 L2204.0 1492.7 L2208.0 1492.7 L2212.0 1492.7 L2216.0 1492.7 L2220.0 1492.7 L2224.0 1492.7 L2228.0 1492.7 L2232.0 1492.7 L2236.0 1492.7 L2240.0 1492.7 L2244.0 1492.7 L2248.0 1492.7 L2252.0 1492.7 L2256.0 1492.7 L2260.0 1492.7 L2264.0 1492.7 L2268.0 1492.7 L2272.0 1492.7 L2276.0 1492.7 L2280.0 1492.7 L2284.0 1492.7 L2288.0 1492.7 L2292.0 1492.7 L2296.0 1492.7 L2300.0 1492.6 L2304.0 1492.5 L2308.0 1492.4 L2312.0 1492.3 L2316.0 1492.2 L2320.0 1492.0 L2324.0 1491.7 L2328.0 1491.0 L2331.9 1490.1 L2335.7 1489.1 L2339.5 1487.5 L2342.8 1485.2 L2345.3 1482.4 L2347.3 1478.8 L2348.0 1477.0"/>
<path stroke="#f3d121" stroke-width="8.6" d="M229.0 449.9 L233.7 451.8 L238.4 453.5 L243.1 455.1 L247.8 456.7 L252.6 458.2 L257.4 459.6 L262.2 461.0 L267.0 462.3 L271.9 463.5 L276.7 464.7 L281.6 465.9 L286.5 467.1 L291.4 468.2 L296.3 469.3 L301.2 470.4 L306.1 471.4 L311.0 472.5 L315.9 473.6 L320.8 474.7 L325.7 475.8 L330.5 476.9 L335.4 478.1 L340.3 479.2 L345.1 480.5 L350.0 481.7 L354.8 483.1 L359.6 484.4 L364.3 485.9 L369.1 487.4 L373.8 489.0 L378.5 490.6 L383.2 492.4 L387.8 494.2 L392.5 496.1 L397.1 498.1 L401.7 500.1 L406.2 502.1 L410.8 504.2 L415.3 506.3 L419.8 508.5 L424.3 510.6 L428.8 512.8 L433.3 515.0 L437.9 517.1 L442.4 519.2 L446.9 521.3 L451.5 523.2 L456.1 525.1 L460.8 526.9 L465.5 528.5 L470.2 530.1 L474.9 531.6 L479.7 533.0 L484.5 534.4 L489.3 535.8 L494.1 537.1 L498.9 538.5 L503.7 539.9 L508.5 541.4 L513.2 542.9 L517.9 544.5 L522.6 546.1 L527.3 547.9 L532.0 549.7 L536.6 551.5 L541.3 553.4 L545.9 555.3 L550.5 557.3 L555.1 559.2 L559.7 561.2 L564.3 563.2 L568.9 565.2 L573.5 567.2 L578.1 569.3 L582.7 571.3 L587.2 573.3 L591.8 575.4 L596.4 577.5 L600.9 579.6 L605.5 581.7 L610.0 583.9 L614.5 586.1 L619.0 588.3 L623.5 590.5 L628.0 592.7 L632.4 595.0 L636.8 597.4 L641.3 599.7 L645.7 602.1 L650.0 604.5 L654.4 607.0 L658.7 609.5 L663.0 612.0 L667.3 614.5 L671.6 617.1 L675.9 619.7 L680.1 622.4 L684.3 625.0 L688.6 627.7 L692.8 630.4 L697.0 633.1 L701.2 635.8 L705.3 638.6 L709.5 641.3 L713.7 644.0 L717.9 646.8 L722.1 649.5 L726.2 652.3 L730.4 655.0 L734.6 657.7 L738.8 660.4 L743.0 663.1 L747.1 665.8 L751.3 668.5 L755.6 671.1 L759.8 673.8 L764.0 676.4 L768.2 679.1 L772.4 681.7 L776.6 684.4 L780.9 687.0 L785.1 689.6 L789.3 692.2 L793.5 694.9 L797.7 697.5 L802.0 700.1 L806.2 702.8 L810.4 705.4 L814.6 708.1 L818.8 710.8 L823.0 713.4 L827.2 716.1 L831.3 718.8 L835.5 721.6 L839.7 724.3 L843.8 727.1 L848.0 729.8 L852.1 732.6 L856.2 735.5 L860.3 738.3 L864.4 741.2 L868.5 744.0 L872.6 746.9 L876.7 749.9 L880.7 752.8 L884.8 755.7 L888.8 758.7 L892.8 761.7 L896.8 764.7 L900.8 767.7 L904.8 770.8 L908.8 773.8 L912.8 776.9 L916.7 780.0 L920.7 783.1 L924.6 786.2 L928.5 789.4 L932.4 792.5 L936.3 795.7 L940.2 798.9 L944.1 802.1 L947.9 805.3 L951.8 808.5 L955.6 811.7 L959.5 815.0 L963.3 818.2 L967.1 821.5 L970.9 824.8 L974.7 828.1 L978.4 831.4 L982.2 834.7 L985.9 838.0 L989.7 841.3 L993.4 844.7 L997.1 848.0 L1000.8 851.4 L1004.5 854.8 L1008.2 858.2 L1011.8 861.5 L1015.5 864.9 L1019.1 868.4 L1022.7 871.8 L1026.4 875.2 L1030.0 878.6 L1033.6 882.1 L1037.2 885.5 L1040.8 889.0 L1044.3 892.5 L1047.9 896.0 L1051.4 899.5 L1055.0 903.0 L1058.5 906.5 L1062.0 910.0 L1065.6 913.5 L1069.1 917.0 L1072.6 920.6 L1076.1 924.1 L1079.5 927.7 L1083.0 931.2 L1086.5 934.8 L1089.9 938.4 L1093.4 941.9 L1096.8 945.5 L1100.3 949.1 L1103.7 952.7 L1107.1 956.3 L1110.5 959.9 L1113.9 963.6 L1117.3 967.2 L1120.7 970.8 L1124.1 974.5 L1127.5 978.1 L1130.9 981.8 L1134.3 985.4 L1137.6 989.1 L1141.0 992.7 L1144.3 996.4 L1147.7 1000.1 L1151.0 1003.8 L1154.4 1007.5 L1157.7 1011.2 L1161.0 1014.9 L1164.3 1018.6 L1167.7 1022.3 L1171.0 1026.0 L1174.3 1029.7 L1177.6 1033.4 L1180.9 1037.2 L1184.2 1040.9 L1187.5 1044.6 L1190.8 1048.4 L1194.0 1052.1 L1197.3 1055.8 L1200.6 1059.6 L1203.9 1063.3 L1207.2 1067.1 L1210.4 1070.9 L1213.7 1074.6 L1217.0 1078.4 L1220.2 1082.2 L1223.5 1085.9 L1226.7 1089.7 L1230.0 1093.5 L1233.3 1097.3 L1236.5 1101.0 L1239.8 1104.8 L1243.0 1108.6 L1246.3 1112.4 L1249.5 1116.2 L1252.8 1120.0 L1256.0 1123.8 L1259.3 1127.6 L1262.5 1131.4 L1265.7 1135.2 L1269.0 1139.0 L1272.2 1142.8 L1275.5 1146.6 L1278.7 1150.4 L1282.0 1154.2 L1285.2 1158.0 L1288.5 1161.8 L1291.7 1165.6 L1295.0 1169.4 L1298.2 1173.2 L1301.5 1177.0 L1304.7 1180.9 L1308.0 1184.7 L1311.2 1188.5 L1314.5 1192.3 L1317.8 1196.1 L1321.0 1199.9 L1324.3 1203.7 L1327.6 1207.5 L1330.8 1211.3 L1334.1 1215.1 L1337.4 1218.9 L1340.7 1222.7 L1343.9 1226.5 L1347.2 1230.3 L1350.5 1234.1 L1353.8 1237.9 L1357.1 1241.7 L1360.4 1245.5 L1363.7 1249.3 L1367.0 1253.1 L1370.3 1256.9 L1373.6 1260.7 L1377.0 1264.5 L1380.3 1268.3 L1383.6 1272.1 L1387.0 1275.8 L1390.3 1279.6 L1393.6 1283.4 L1397.0 1287.2 L1400.4 1290.9 L1403.7 1294.7 L1407.1 1298.5 L1410.5 1302.2 L1413.8 1306.0 L1417.2 1309.7 L1420.6 1313.5 L1424.0 1317.2 L1427.4 1321.0 L1430.8 1324.7 L1434.3 1328.4 L1437.7 1332.2 L1441.1 1335.9 L1444.6 1339.6 L1448.0 1343.3 L1451.5 1347.0 L1455.0 1350.7 L1458.4 1354.4 L1461.9 1358.1 L1465.4 1361.7 L1468.9 1365.4 L1472.5 1369.0 L1476.0 1372.6 L1479.6 1376.2 L1483.2 1379.8 L1486.8 1383.3 L1490.4 1386.8 L1494.0 1390.3 L1497.7 1393.7 L1501.3 1397.2 L1505.0 1400.5 L1508.8 1403.9 L1512.5 1407.2 L1516.3 1410.5 L1520.1 1413.7 L1523.9 1416.9 L1527.7 1420.0 L1531.6 1423.1 L1535.5 1426.2 L1539.5 1429.2 L1543.4 1432.1 L1547.4 1435.0 L1551.4 1437.8 L1555.5 1440.6 L1559.6 1443.3 L1563.7 1446.0 L1567.9 1448.6 L1572.1 1451.1 L1576.3 1453.6 L1580.6 1456.0 L1584.9 1458.3 L1589.3 1460.6 L1593.7 1462.7 L1598.1 1464.9 L1602.6 1466.9 L1607.2 1468.8 L1611.7 1470.7 L1616.3 1472.5 L1621.0 1474.2 L1625.7 1475.9 L1630.4 1477.4 L1635.2 1478.9 L1640.0 1480.3 L1644.8 1481.6 L1649.6 1482.9 L1654.5 1484.1 L1659.4 1485.2 L1664.3 1486.2 L1669.3 1487.2 L1674.2 1488.1 L1679.2 1488.9 L1684.2 1489.6 L1689.1 1490.3 L1694.1 1490.9 L1699.2 1491.4 L1704.2 1491.9 L1709.2 1492.3 L1714.2 1492.6 L1719.2 1492.7 L1724.2 1492.7 L1729.2 1492.7 L1734.2 1492.7 L1739.2 1492.7 L1744.2 1492.7 L1749.2 1492.7 L1754.1 1492.7 L1759.0 1492.5 L1760.0 1492.7 L1820.0 1492.7 L1824.0 1492.7 L1828.0 1492.7 L1832.0 1492.7 L1836.0 1492.7 L1840.0 1492.7 L1844.0 1492.7 L1848.0 1492.7 L1852.0 1492.7 L1856.0 1492.7 L1860.0 1492.7 L1864.0 1492.7 L1868.0 1492.7 L1872.0 1492.7 L1876.0 1492.7 L1880.0 1492.7 L1884.0 1492.7 L1888.0 1492.7 L1892.0 1492.7 L1896.0 1492.7 L1900.0 1492.7 L1904.0 1492.7 L1908.0 1492.7 L1912.0 1492.7 L1916.0 1492.7 L1920.0 1492.7 L1924.0 1492.7 L1928.0 1492.7 L1932.0 1492.7 L1936.0 1492.7 L1940.0 1492.7 L1944.0 1492.7 L1948.0 1492.7 L1952.0 1492.7 L1956.0 1492.7 L1960.0 1492.7 L1964.0 1492.7 L1968.0 1492.7 L1972.0 1492.7 L1976.0 1492.7 L1980.0 1492.7 L1984.0 1492.7 L1988.0 1492.7 L1992.0 1492.7 L1996.0 1492.7 L2000.0 1492.7 L2004.0 1492.7 L2008.0 1492.7 L2012.0 1492.7 L2016.0 1492.7 L2020.0 1492.7 L2024.0 1492.7 L2028.0 1492.7 L2032.0 1492.7 L2036.0 1492.7 L2040.0 1492.7 L2044.0 1492.7 L2048.0 1492.7 L2052.0 1492.7 L2056.0 1492.7 L2060.0 1492.7 L2064.0 1492.7 L2068.0 1492.7 L2072.0 1492.7 L2076.0 1492.7 L2080.0 1492.7 L2084.0 1492.7 L2088.0 1492.7 L2092.0 1492.7 L2096.0 1492.7 L2100.0 1492.7 L2104.0 1492.7 L2108.0 1492.7 L2112.0 1492.7 L2116.0 1492.7 L2120.0 1492.7 L2124.0 1492.7 L2128.0 1492.7 L2132.0 1492.7 L2136.0 1492.7 L2140.0 1492.7 L2144.0 1492.7 L2148.0 1492.7 L2152.0 1492.7 L2156.0 1492.7 L2160.0 1492.7 L2164.0 1492.7 L2168.0 1492.7 L2172.0 1492.7 L2176.0 1492.7 L2180.0 1492.7 L2184.0 1492.7 L2188.0 1492.7 L2192.0 1492.7 L2196.0 1492.7 L2200.0 1492.7 L2204.0 1492.7 L2208.0 1492.7 L2212.0 1492.7 L2216.0 1492.7 L2220.0 1492.7 L2224.0 1492.7 L2228.0 1492.7 L2232.0 1492.7 L2236.0 1492.7 L2240.0 1492.7 L2244.0 1492.7 L2248.0 1492.7 L2252.0 1492.7 L2256.0 1492.7 L2260.0 1492.7 L2264.0 1492.7 L2268.0 1492.7 L2272.0 1492.7 L2276.0 1492.7 L2280.0 1492.7 L2284.0 1492.7 L2288.0 1492.7 L2292.0 1492.7 L2296.0 1492.7 L2300.0 1492.6 L2304.0 1492.5 L2308.0 1492.4 L2312.0 1492.3 L2316.0 1492.2 L2320.0 1492.0 L2324.0 1491.7 L2328.0 1491.0 L2331.9 1490.1 L2335.7 1489.1 L2339.5 1487.5 L2342.8 1485.2 L2345.3 1482.4 L2347.3 1478.8 L2348.0 1477.0"/>
<path stroke="#ffa588" stroke-width="15.0" stroke-opacity="0.75" d="M229.0 301.5 L234.0 301.0 L239.0 300.5 L244.0 300.1 L248.9 299.8 L253.9 299.6 L258.9 299.4 L263.9 299.3 L268.9 299.2 L273.9 299.1 L278.9 299.1 L283.9 299.2 L288.9 299.2 L293.9 299.3 L298.9 299.4 L303.9 299.5 L308.9 299.6 L313.9 299.7 L318.9 299.8 L323.9 299.9 L328.9 300.0 L333.9 300.0 L339.0 300.1 L344.0 300.2 L349.0 300.2 L354.0 300.3 L359.0 300.4 L364.0 300.6 L369.0 300.8 L374.0 301.0 L378.9 301.4 L383.9 301.8 L388.9 302.3 L393.8 302.9 L398.7 303.6 L403.6 304.5 L408.5 305.4 L413.4 306.4 L418.3 307.5 L423.2 308.5 L428.1 309.5 L433.0 310.6 L437.9 311.5 L442.8 312.4 L447.7 313.2 L452.7 313.9 L457.6 314.4 L462.6 314.9 L467.6 315.3 L472.6 315.6 L477.6 316.0 L482.5 316.4 L487.5 316.7 L492.5 317.1 L497.5 317.5 L502.5 317.8 L507.4 318.2 L512.4 318.5 L517.4 318.9 L522.4 319.3 L527.4 319.6 L532.3 320.0 L537.3 320.4 L542.3 320.7 L547.3 321.1 L552.2 321.4 L557.2 321.8 L562.2 322.2 L567.2 322.6 L572.1 322.9 L577.1 323.3 L582.1 323.7 L587.1 324.1 L592.0 324.5 L597.0 324.9 L602.0 325.3 L607.0 325.7 L612.0 326.1 L616.9 326.5 L621.9 326.9 L626.9 327.3 L631.9 327.7 L636.9 328.2 L641.9 328.6 L646.8 329.0 L651.8 329.5 L656.8 329.9 L661.8 330.4 L666.8 330.8 L671.8 331.3 L676.8 331.8 L681.7 332.3 L686.7 332.8 L691.7 333.3 L696.7 333.8 L701.7 334.3 L706.7 334.8 L711.7 335.3 L716.6 335.9 L721.6 336.4 L726.6 336.9 L731.6 337.5 L736.6 338.1 L741.6 338.6 L746.5 339.2 L751.5 339.8 L756.5 340.4 L761.5 341.0 L766.5 341.6 L771.4 342.3 L776.4 342.9 L781.4 343.5 L786.3 344.2 L791.3 344.9 L796.3 345.5 L801.2 346.2 L806.2 346.9 L811.2 347.6 L816.1 348.4 L821.1 349.1 L826.0 349.8 L831.0 350.6 L836.0 351.3 L840.9 352.1 L845.9 352.9 L850.8 353.7 L855.7 354.5 L860.7 355.3 L865.6 356.1 L870.6 357.0 L875.5 357.9 L880.4 358.7 L885.3 359.6 L890.3 360.5 L895.2 361.4 L900.1 362.3 L905.0 363.3 L909.9 364.2 L914.8 365.2 L919.7 366.2 L924.6 367.1 L929.5 368.2 L934.4 369.2 L939.3 370.2 L944.2 371.3 L949.1 372.3 L954.0 373.4 L958.8 374.5 L963.7 375.6 L968.6 376.7 L973.4 377.9 L978.3 379.0 L983.2 380.2 L988.0 381.4 L992.8 382.6 L997.7 383.8 L1002.5 385.0 L1007.4 386.3 L1012.2 387.5 L1017.0 388.8 L1021.8 390.1 L1026.6 391.4 L1031.4 392.8 L1036.2 394.1 L1041.0 395.5 L1045.8 396.9 L1050.6 398.3 L1055.4 399.7 L1060.2 401.2 L1064.9 402.6 L1069.7 404.1 L1074.5 405.6 L1079.2 407.1 L1084.0 408.7 L1088.7 410.2 L1093.4 411.8 L1098.2 413.4 L1102.9 415.0 L1107.6 416.6 L1112.3 418.3 L1117.0 420.0 L1121.7 421.7 L1126.4 423.4 L1131.1 425.1 L1135.8 426.9 L1140.5 428.7 L1145.1 430.5 L1149.8 432.3 L1154.4 434.1 L1159.1 436.0 L1163.7 437.9 L1168.3 439.8 L1173.0 441.7 L1177.6 443.6 L1182.2 445.6 L1186.8 447.6 L1191.4 449.6 L1196.0 451.6 L1200.5 453.7 L1205.1 455.8 L1209.6 457.9 L1214.2 460.0 L1218.7 462.2 L1223.2 464.4 L1227.7 466.6 L1232.2 468.8 L1236.7 471.0 L1241.2 473.3 L1245.6 475.6 L1250.1 477.9 L1254.5 480.3 L1258.9 482.7 L1263.3 485.0 L1267.7 487.5 L1272.0 489.9 L1276.4 492.4 L1280.7 494.9 L1285.0 497.4 L1289.3 500.0 L1293.6 502.5 L1297.9 505.2 L1302.1 507.8 L1306.3 510.4 L1310.6 513.1 L1314.7 515.8 L1318.9 518.6 L1323.0 521.3 L1327.2 524.1 L1331.3 527.0 L1335.4 529.8 L1339.4 532.7 L1343.5 535.6 L1347.5 538.5 L1351.5 541.5 L1355.4 544.5 L1359.4 547.5 L1363.3 550.6 L1367.2 553.6 L1371.1 556.7 L1374.9 559.9 L1378.8 563.0 L1382.5 566.2 L1386.3 569.5 L1390.1 572.7 L1393.8 576.0 L1397.5 579.3 L1401.1 582.7 L1404.8 586.1 L1408.4 589.5 L1411.9 592.9 L1415.5 596.4 L1419.0 599.9 L1422.5 603.4 L1425.9 607.0 L1429.4 610.6 L1432.7 614.2 L1436.1 617.9 L1439.4 621.6 L1442.7 625.3 L1446.0 629.1 L1449.2 632.9 L1452.4 636.7 L1455.6 640.6 L1458.8 644.4 L1461.9 648.3 L1464.9 652.3 L1468.0 656.2 L1471.0 660.2 L1474.0 664.3 L1477.0 668.3 L1479.9 672.4 L1482.8 676.4 L1485.7 680.6 L1488.5 684.7 L1491.4 688.9 L1494.1 693.0 L1496.9 697.2 L1499.7 701.5 L1502.4 705.7 L1505.0 710.0 L1507.7 714.2 L1510.3 718.5 L1512.9 722.8 L1515.5 727.2 L1518.1 731.5 L1520.6 735.9 L1523.1 740.3 L1525.6 744.7 L1528.0 749.1 L1530.5 753.5 L1532.9 757.9 L1535.2 762.4 L1537.6 766.8 L1539.9 771.3 L1542.2 775.8 L1544.5 780.3 L1546.8 784.8 L1549.0 789.3 L1551.3 793.8 L1553.4 798.3 L1555.6 802.8 L1557.8 807.4 L1559.9 811.9 L1562.0 816.5 L1564.1 821.0 L1566.2 825.6 L1568.2 830.2 L1570.3 834.7 L1572.3 839.3 L1574.3 843.9 L1576.2 848.5 L1578.2 853.1 L1580.1 857.7 L1582.0 862.3 L1583.9 867.0 L1585.8 871.6 L1587.7 876.2 L1589.5 880.9 L1591.4 885.5 L1593.2 890.1 L1595.0 894.8 L1596.7 899.5 L1598.5 904.1 L1600.3 908.8 L1602.0 913.5 L1603.7 918.1 L1605.4 922.8 L1607.1 927.5 L1608.8 932.2 L1610.5 936.9 L1612.1 941.6 L1613.8 946.3 L1615.4 951.0 L1617.0 955.7 L1618.6 960.5 L1620.2 965.2 L1621.8 969.9 L1623.3 974.6 L1624.9 979.4 L1626.4 984.1 L1628.0 988.8 L1629.5 993.6 L1631.0 998.3 L1632.5 1003.1 L1634.0 1007.8 L1635.5 1012.6 L1637.0 1017.3 L1638.5 1022.1 L1639.9 1026.9 L1641.4 1031.6 L1642.8 1036.4 L1644.3 1041.2 L1645.7 1045.9 L1647.2 1050.7 L1648.6 1055.5 L1650.0 1060.3 L1651.4 1065.0 L1652.8 1069.8 L1654.2 1074.6 L1655.6 1079.4 L1657.0 1084.2 L1658.4 1088.9 L1659.8 1093.7 L1661.1 1098.5 L1662.5 1103.3 L1663.9 1108.1 L1665.3 1112.9 L1666.6 1117.7 L1668.0 1122.5 L1669.4 1127.3 L1670.7 1132.1 L1672.1 1136.8 L1673.4 1141.6 L1674.8 1146.4 L1676.1 1151.2 L1677.5 1156.0 L1678.9 1160.8 L1680.2 1165.6 L1681.6 1170.4 L1682.9 1175.2 L1684.3 1180.0 L1685.7 1184.8 L1687.0 1189.6 L1688.4 1194.3 L1689.7 1199.1 L1691.1 1203.9 L1692.5 1208.7 L1693.9 1213.5 L1695.2 1218.3 L1696.6 1223.1 L1698.0 1227.8 L1699.3 1232.6 L1700.7 1237.4 L1702.1 1242.2 L1703.5 1247.0 L1704.8 1251.8 L1706.2 1256.6 L1707.6 1261.4 L1708.9 1266.2 L1710.3 1271.0 L1711.6 1275.8 L1713.0 1280.6 L1714.3 1285.4 L1715.6 1290.3 L1717.0 1295.1 L1718.3 1299.9 L1719.6 1304.7 L1721.0 1309.6 L1722.3 1314.4 L1723.6 1319.3 L1724.9 1324.1 L1726.1 1329.0 L1727.4 1333.9 L1728.7 1338.7 L1730.0 1343.6 L1731.3 1348.5 L1732.6 1353.4 L1733.9 1358.2 L1735.3 1363.1 L1736.7 1368.0 L1738.1 1372.8 L1739.5 1377.7 L1741.0 1382.5 L1742.5 1387.3 L1744.1 1392.1 L1745.7 1396.9 L1747.4 1401.7 L1749.1 1406.4 L1751.0 1411.1 L1752.9 1415.8 L1754.8 1420.5 L1756.9 1425.2 L1759.0 1429.8 L1761.2 1434.4 L1763.5 1438.9 L1766.0 1443.4 L1768.5 1447.7 L1771.2 1452.0 L1774.0 1456.1 L1776.9 1460.1 L1780.0 1463.9 L1783.2 1467.5 L1786.6 1471.0 L1790.1 1474.2 L1793.8 1477.2 L1797.7 1480.0 L1801.8 1482.5 L1806.0 1484.7 L1810.5 1486.6 L1815.2 1488.2 L1820.0 1489.5 L1825.0 1490.5 L1830.1 1491.3 L1835.3 1491.5 L1840.5 1491.5 L1845.8 1491.5 L1850.9 1491.5 L1856.1 1491.5 L1861.1 1491.5 L1866.0 1491.5 L1870.0 1491.5 L1930.0 1491.5 L1934.0 1491.5 L1938.0 1491.5 L1942.0 1491.5 L1946.0 1491.5 L1950.0 1491.5 L1954.0 1491.5 L1958.0 1491.5 L1962.0 1491.5 L1966.0 1491.5 L1970.0 1491.5 L1974.0 1491.5 L1978.0 1491.5 L1982.0 1491.5 L1986.0 1491.5 L1990.0 1491.5 L1994.0 1491.5 L1998.0 1491.5 L2002.0 1491.5 L2006.0 1491.5 L2010.0 1491.5 L2014.0 1491.5 L2018.0 1491.5 L2022.0 1491.5 L2026.0 1491.5 L2030.0 1491.5 L2034.0 1491.5 L2038.0 1491.5 L2042.0 1491.5 L2046.0 1491.5 L2050.0 1491.5 L2054.0 1491.5 L2058.0 1491.5 L2062.0 1491.5 L2066.0 1491.5 L2070.0 1491.5 L2074.0 1491.5 L2078.0 1491.5 L2082.0 1491.5 L2086.0 1491.5 L2090.0 1491.5 L2094.0 1491.5 L2098.0 1491.5 L2102.0 1491.5 L2106.0 1491.5 L2110.0 1491.5 L2114.0 1491.5 L2118.0 1491.5 L2122.0 1491.5 L2126.0 1491.5 L2130.0 1491.5 L2134.0 1491.5 L2138.0 1491.5 L2142.0 1491.5 L2146.0 1491.5 L2150.0 1491.5 L2154.0 1491.5 L2158.0 1491.5 L2162.0 1491.5 L2166.0 1491.5 L2170.0 1491.5 L2174.0 1491.5 L2178.0 1491.5 L2182.0 1491.5 L2186.0 1491.5 L2190.0 1491.5 L2194.0 1491.5 L2198.0 1491.5 L2202.0 1491.5 L2206.0 1491.5 L2210.0 1491.5 L2214.0 1491.5 L2218.0 1491.4 L2222.0 1491.4 L2226.0 1491.3 L2230.0 1491.3 L2234.0 1491.2 L2238.0 1491.2 L2242.0 1491.1 L2246.0 1491.0 L2250.0 1491.0 L2254.0 1490.9 L2258.0 1490.8 L2262.0 1490.7 L2266.0 1490.6 L2270.0 1490.5 L2274.0 1490.4 L2278.0 1490.2 L2282.0 1490.0 L2286.0 1489.7 L2290.0 1489.4 L2294.0 1489.1 L2297.9 1488.7 L2301.9 1488.3 L2305.9 1487.7 L2309.8 1486.9 L2313.7 1486.1 L2317.6 1485.1 L2321.5 1483.8 L2325.1 1482.3 L2328.7 1480.4 L2332.1 1477.9 L2334.9 1475.0 L2336.9 1472.0 L2338.4 1468.4 L2339.7 1464.5 L2340.8 1460.5 L2341.8 1456.5 L2342.8 1452.7 L2343.7 1448.8 L2344.6 1444.8 L2345.5 1440.9 L2346.3 1437.0 L2347.1 1433.1 L2347.5 1431.0"/>
<path stroke="#94200f" stroke-width="8.6" d="M229.0 301.5 L234.0 301.0 L239.0 300.5 L244.0 300.1 L248.9 299.8 L253.9 299.6 L258.9 299.4 L263.9 299.3 L268.9 299.2 L273.9 299.1 L278.9 299.1 L283.9 299.2 L288.9 299.2 L293.9 299.3 L298.9 299.4 L303.9 299.5 L308.9 299.6 L313.9 299.7 L318.9 299.8 L323.9 299.9 L328.9 300.0 L333.9 300.0 L339.0 300.1 L344.0 300.2 L349.0 300.2 L354.0 300.3 L359.0 300.4 L364.0 300.6 L369.0 300.8 L374.0 301.0 L378.9 301.4 L383.9 301.8 L388.9 302.3 L393.8 302.9 L398.7 303.6 L403.6 304.5 L408.5 305.4 L413.4 306.4 L418.3 307.5 L423.2 308.5 L428.1 309.5 L433.0 310.6 L437.9 311.5 L442.8 312.4 L447.7 313.2 L452.7 313.9 L457.6 314.4 L462.6 314.9 L467.6 315.3 L472.6 315.6 L477.6 316.0 L482.5 316.4 L487.5 316.7 L492.5 317.1 L497.5 317.5 L502.5 317.8 L507.4 318.2 L512.4 318.5 L517.4 318.9 L522.4 319.3 L527.4 319.6 L532.3 320.0 L537.3 320.4 L542.3 320.7 L547.3 321.1 L552.2 321.4 L557.2 321.8 L562.2 322.2 L567.2 322.6 L572.1 322.9 L577.1 323.3 L582.1 323.7 L587.1 324.1 L592.0 324.5 L597.0 324.9 L602.0 325.3 L607.0 325.7 L612.0 326.1 L616.9 326.5 L621.9 326.9 L626.9 327.3 L631.9 327.7 L636.9 328.2 L641.9 328.6 L646.8 329.0 L651.8 329.5 L656.8 329.9 L661.8 330.4 L666.8 330.8 L671.8 331.3 L676.8 331.8 L681.7 332.3 L686.7 332.8 L691.7 333.3 L696.7 333.8 L701.7 334.3 L706.7 334.8 L711.7 335.3 L716.6 335.9 L721.6 336.4 L726.6 336.9 L731.6 337.5 L736.6 338.1 L741.6 338.6 L746.5 339.2 L751.5 339.8 L756.5 340.4 L761.5 341.0 L766.5 341.6 L771.4 342.3 L776.4 342.9 L781.4 343.5 L786.3 344.2 L791.3 344.9 L796.3 345.5 L801.2 346.2 L806.2 346.9 L811.2 347.6 L816.1 348.4 L821.1 349.1 L826.0 349.8 L831.0 350.6 L836.0 351.3 L840.9 352.1 L845.9 352.9 L850.8 353.7 L855.7 354.5 L860.7 355.3 L865.6 356.1 L870.6 357.0 L875.5 357.9 L880.4 358.7 L885.3 359.6 L890.3 360.5 L895.2 361.4 L900.1 362.3 L905.0 363.3 L909.9 364.2 L914.8 365.2 L919.7 366.2 L924.6 367.1 L929.5 368.2 L934.4 369.2 L939.3 370.2 L944.2 371.3 L949.1 372.3 L954.0 373.4 L958.8 374.5 L963.7 375.6 L968.6 376.7 L973.4 377.9 L978.3 379.0 L983.2 380.2 L988.0 381.4 L992.8 382.6 L997.7 383.8 L1002.5 385.0 L1007.4 386.3 L1012.2 387.5 L1017.0 388.8 L1021.8 390.1 L1026.6 391.4 L1031.4 392.8 L1036.2 394.1 L1041.0 395.5 L1045.8 396.9 L1050.6 398.3 L1055.4 399.7 L1060.2 401.2 L1064.9 402.6 L1069.7 404.1 L1074.5 405.6 L1079.2 407.1 L1084.0 408.7 L1088.7 410.2 L1093.4 411.8 L1098.2 413.4 L1102.9 415.0 L1107.6 416.6 L1112.3 418.3 L1117.0 420.0 L1121.7 421.7 L1126.4 423.4 L1131.1 425.1 L1135.8 426.9 L1140.5 428.7 L1145.1 430.5 L1149.8 432.3 L1154.4 434.1 L1159.1 436.0 L1163.7 437.9 L1168.3 439.8 L1173.0 441.7 L1177.6 443.6 L1182.2 445.6 L1186.8 447.6 L1191.4 449.6 L1196.0 451.6 L1200.5 453.7 L1205.1 455.8 L1209.6 457.9 L1214.2 460.0 L1218.7 462.2 L1223.2 464.4 L1227.7 466.6 L1232.2 468.8 L1236.7 471.0 L1241.2 473.3 L1245.6 475.6 L1250.1 477.9 L1254.5 480.3 L1258.9 482.7 L1263.3 485.0 L1267.7 487.5 L1272.0 489.9 L1276.4 492.4 L1280.7 494.9 L1285.0 497.4 L1289.3 500.0 L1293.6 502.5 L1297.9 505.2 L1302.1 507.8 L1306.3 510.4 L1310.6 513.1 L1314.7 515.8 L1318.9 518.6 L1323.0 521.3 L1327.2 524.1 L1331.3 527.0 L1335.4 529.8 L1339.4 532.7 L1343.5 535.6 L1347.5 538.5 L1351.5 541.5 L1355.4 544.5 L1359.4 547.5 L1363.3 550.6 L1367.2 553.6 L1371.1 556.7 L1374.9 559.9 L1378.8 563.0 L1382.5 566.2 L1386.3 569.5 L1390.1 572.7 L1393.8 576.0 L1397.5 579.3 L1401.1 582.7 L1404.8 586.1 L1408.4 589.5 L1411.9 592.9 L1415.5 596.4 L1419.0 599.9 L1422.5 603.4 L1425.9 607.0 L1429.4 610.6 L1432.7 614.2 L1436.1 617.9 L1439.4 621.6 L1442.7 625.3 L1446.0 629.1 L1449.2 632.9 L1452.4 636.7 L1455.6 640.6 L1458.8 644.4 L1461.9 648.3 L1464.9 652.3 L1468.0 656.2 L1471.0 660.2 L1474.0 664.3 L1477.0 668.3 L1479.9 672.4 L1482.8 676.4 L1485.7 680.6 L1488.5 684.7 L1491.4 688.9 L1494.1 693.0 L1496.9 697.2 L1499.7 701.5 L1502.4 705.7 L1505.0 710.0 L1507.7 714.2 L1510.3 718.5 L1512.9 722.8 L1515.5 727.2 L1518.1 731.5 L1520.6 735.9 L1523.1 740.3 L1525.6 744.7 L1528.0 749.1 L1530.5 753.5 L1532.9 757.9 L1535.2 762.4 L1537.6 766.8 L1539.9 771.3 L1542.2 775.8 L1544.5 780.3 L1546.8 784.8 L1549.0 789.3 L1551.3 793.8 L1553.4 798.3 L1555.6 802.8 L1557.8 807.4 L1559.9 811.9 L1562.0 816.5 L1564.1 821.0 L1566.2 825.6 L1568.2 830.2 L1570.3 834.7 L1572.3 839.3 L1574.3 843.9 L1576.2 848.5 L1578.2 853.1 L1580.1 857.7 L1582.0 862.3 L1583.9 867.0 L1585.8 871.6 L1587.7 876.2 L1589.5 880.9 L1591.4 885.5 L1593.2 890.1 L1595.0 894.8 L1596.7 899.5 L1598.5 904.1 L1600.3 908.8 L1602.0 913.5 L1603.7 918.1 L1605.4 922.8 L1607.1 927.5 L1608.8 932.2 L1610.5 936.9 L1612.1 941.6 L1613.8 946.3 L1615.4 951.0 L1617.0 955.7 L1618.6 960.5 L1620.2 965.2 L1621.8 969.9 L1623.3 974.6 L1624.9 979.4 L1626.4 984.1 L1628.0 988.8 L1629.5 993.6 L1631.0 998.3 L1632.5 1003.1 L1634.0 1007.8 L1635.5 1012.6 L1637.0 1017.3 L1638.5 1022.1 L1639.9 1026.9 L1641.4 1031.6 L1642.8 1036.4 L1644.3 1041.2 L1645.7 1045.9 L1647.2 1050.7 L1648.6 1055.5 L1650.0 1060.3 L1651.4 1065.0 L1652.8 1069.8 L1654.2 1074.6 L1655.6 1079.4 L1657.0 1084.2 L1658.4 1088.9 L1659.8 1093.7 L1661.1 1098.5 L1662.5 1103.3 L1663.9 1108.1 L1665.3 1112.9 L1666.6 1117.7 L1668.0 1122.5 L1669.4 1127.3 L1670.7 1132.1 L1672.1 1136.8 L1673.4 1141.6 L1674.8 1146.4 L1676.1 1151.2 L1677.5 1156.0 L1678.9 1160.8 L1680.2 1165.6 L1681.6 1170.4 L1682.9 1175.2 L1684.3 1180.0 L1685.7 1184.8 L1687.0 1189.6 L1688.4 1194.3 L1689.7 1199.1 L1691.1 1203.9 L1692.5 1208.7 L1693.9 1213.5 L1695.2 1218.3 L1696.6 1223.1 L1698.0 1227.8 L1699.3 1232.6 L1700.7 1237.4 L1702.1 1242.2 L1703.5 1247.0 L1704.8 1251.8 L1706.2 1256.6 L1707.6 1261.4 L1708.9 1266.2 L1710.3 1271.0 L1711.6 1275.8 L1713.0 1280.6 L1714.3 1285.4 L1715.6 1290.3 L1717.0 1295.1 L1718.3 1299.9 L1719.6 1304.7 L1721.0 1309.6 L1722.3 1314.4 L1723.6 1319.3 L1724.9 1324.1 L1726.1 1329.0 L1727.4 1333.9 L1728.7 1338.7 L1730.0 1343.6 L1731.3 1348.5 L1732.6 1353.4 L1733.9 1358.2 L1735.3 1363.1 L1736.7 1368.0 L1738.1 1372.8 L1739.5 1377.7 L1741.0 1382.5 L1742.5 1387.3 L1744.1 1392.1 L1745.7 1396.9 L1747.4 1401.7 L1749.1 1406.4 L1751.0 1411.1 L1752.9 1415.8 L1754.8 1420.5 L1756.9 1425.2 L1759.0 1429.8 L1761.2 1434.4 L1763.5 1438.9 L1766.0 1443.4 L1768.5 1447.7 L1771.2 1452.0 L1774.0 1456.1 L1776.9 1460.1 L1780.0 1463.9 L1783.2 1467.5 L1786.6 1471.0 L1790.1 1474.2 L1793.8 1477.2 L1797.7 1480.0 L1801.8 1482.5 L1806.0 1484.7 L1810.5 1486.6 L1815.2 1488.2 L1820.0 1489.5 L1825.0 1490.5 L1830.1 1491.3 L1835.3 1491.5 L1840.5 1491.5 L1845.8 1491.5 L1850.9 1491.5 L1856.1 1491.5 L1861.1 1491.5 L1866.0 1491.5 L1870.0 1491.5 L1930.0 1491.5 L1934.0 1491.5 L1938.0 1491.5 L1942.0 1491.5 L1946.0 1491.5 L1950.0 1491.5 L1954.0 1491.5 L1958.0 1491.5 L1962.0 1491.5 L1966.0 1491.5 L1970.0 1491.5 L1974.0 1491.5 L1978.0 1491.5 L1982.0 1491.5 L1986.0 1491.5 L1990.0 1491.5 L1994.0 1491.5 L1998.0 1491.5 L2002.0 1491.5 L2006.0 1491.5 L2010.0 1491.5 L2014.0 1491.5 L2018.0 1491.5 L2022.0 1491.5 L2026.0 1491.5 L2030.0 1491.5 L2034.0 1491.5 L2038.0 1491.5 L2042.0 1491.5 L2046.0 1491.5 L2050.0 1491.5 L2054.0 1491.5 L2058.0 1491.5 L2062.0 1491.5 L2066.0 1491.5 L2070.0 1491.5 L2074.0 1491.5 L2078.0 1491.5 L2082.0 1491.5 L2086.0 1491.5 L2090.0 1491.5 L2094.0 1491.5 L2098.0 1491.5 L2102.0 1491.5 L2106.0 1491.5 L2110.0 1491.5 L2114.0 1491.5 L2118.0 1491.5 L2122.0 1491.5 L2126.0 1491.5 L2130.0 1491.5 L2134.0 1491.5 L2138.0 1491.5 L2142.0 1491.5 L2146.0 1491.5 L2150.0 1491.5 L2154.0 1491.5 L2158.0 1491.5 L2162.0 1491.5 L2166.0 1491.5 L2170.0 1491.5 L2174.0 1491.5 L2178.0 1491.5 L2182.0 1491.5 L2186.0 1491.5 L2190.0 1491.5 L2194.0 1491.5 L2198.0 1491.5 L2202.0 1491.5 L2206.0 1491.5 L2210.0 1491.5 L2214.0 1491.5 L2218.0 1491.4 L2222.0 1491.4 L2226.0 1491.3 L2230.0 1491.3 L2234.0 1491.2 L2238.0 1491.2 L2242.0 1491.1 L2246.0 1491.0 L2250.0 1491.0 L2254.0 1490.9 L2258.0 1490.8 L2262.0 1490.7 L2266.0 1490.6 L2270.0 1490.5 L2274.0 1490.4 L2278.0 1490.2 L2282.0 1490.0 L2286.0 1489.7 L2290.0 1489.4 L2294.0 1489.1 L2297.9 1488.7 L2301.9 1488.3 L2305.9 1487.7 L2309.8 1486.9 L2313.7 1486.1 L2317.6 1485.1 L2321.5 1483.8 L2325.1 1482.3 L2328.7 1480.4 L2332.1 1477.9 L2334.9 1475.0 L2336.9 1472.0 L2338.4 1468.4 L2339.7 1464.5 L2340.8 1460.5 L2341.8 1456.5 L2342.8 1452.7 L2343.7 1448.8 L2344.6 1444.8 L2345.5 1440.9 L2346.3 1437.0 L2347.1 1433.1 L2347.5 1431.0"/>
</g>
<rect x="2346.6" y="42.7" width="11.3" height="1587.0" fill="#060606"/>
<text transform="translate(200.0 1512.2) scale(0.968 1)" font-size="69.0" text-anchor="end">0</text>
<text transform="translate(200.0 1249.6) scale(0.968 1)" font-size="69.0" text-anchor="end">20</text>
<text transform="translate(200.0 987.0) scale(0.968 1)" font-size="69.0" text-anchor="end">40</text>
<text transform="translate(200.0 724.4) scale(0.968 1)" font-size="69.0" text-anchor="end">60</text>
<text transform="translate(200.0 461.8) scale(0.968 1)" font-size="69.0" text-anchor="end">80</text>
<text transform="translate(200.0 199.2) scale(0.968 1)" font-size="69.0" text-anchor="end">100</text>
<text transform="translate(421.5 1709.0) scale(0.968 1)" font-size="69.0" text-anchor="middle">700</text>
<text transform="translate(799.8 1709.0) scale(0.968 1)" font-size="69.0" text-anchor="middle">600</text>
<text transform="translate(1178.1 1709.0) scale(0.968 1)" font-size="69.0" text-anchor="middle">500</text>
<text transform="translate(1556.4 1709.0) scale(0.968 1)" font-size="69.0" text-anchor="middle">400</text>
<text transform="translate(1934.7 1709.0) scale(0.968 1)" font-size="69.0" text-anchor="middle">300</text>
<text transform="translate(2313.0 1709.0) scale(0.968 1)" font-size="69.0" text-anchor="middle">200</text>
<text transform="translate(1261.5 1785.0) scale(0.990 1)" font-size="90.5" text-anchor="middle">Wavelengh(nm)</text>
<text transform="translate(97.5 859.5) rotate(-90) scale(1.020 1)" font-size="89.0" text-anchor="middle">Tansmittance(%)</text>
<line x1="1824" y1="172.5" x2="1985" y2="172.5" stroke="#8cecff" stroke-opacity="0.75" stroke-width="16.0"/>
<line x1="1825" y1="172.5" x2="1984" y2="172.5" stroke="#189fc9" stroke-width="9.2"/>
<line x1="1824" y1="254.3" x2="1985" y2="254.3" stroke="#ffb4bd" stroke-opacity="0.75" stroke-width="16.0"/>
<line x1="1825" y1="254.3" x2="1984" y2="254.3" stroke="#e8384c" stroke-width="9.2"/>
<line x1="1824" y1="335.8" x2="1985" y2="335.8" stroke="#bdf3a6" stroke-opacity="0.75" stroke-width="16.0"/>
<line x1="1825" y1="335.8" x2="1984" y2="335.8" stroke="#5aa843" stroke-width="9.2"/>
<line x1="1824" y1="417.8" x2="1985" y2="417.8" stroke="#fff3a0" stroke-opacity="0.75" stroke-width="16.0"/>
<line x1="1825" y1="417.8" x2="1984" y2="417.8" stroke="#f3d121" stroke-width="9.2"/>
<line x1="1824" y1="500.6" x2="1985" y2="500.6" stroke="#ffa588" stroke-opacity="0.75" stroke-width="16.0"/>
<line x1="1825" y1="500.6" x2="1984" y2="500.6" stroke="#94200f" stroke-width="9.2"/>
<text transform="translate(1997.5 195.5) scale(0.962 1)" font-size="70.0" text-anchor="start">0.1TGV</text>
<text transform="translate(1997.5 277.3) scale(0.962 1)" font-size="70.0" text-anchor="start">0.2TGV</text>
<text transform="translate(1997.5 358.8) scale(0.962 1)" font-size="70.0" text-anchor="start">0.3TGV</text>
<text transform="translate(1997.5 440.8) scale(0.962 1)" font-size="70.0" text-anchor="start">0.4TGV</text>
<text transform="translate(1997.5 523.6) scale(0.962 1)" font-size="70.0" text-anchor="start">0.3TV</text>
</svg></body></html>
